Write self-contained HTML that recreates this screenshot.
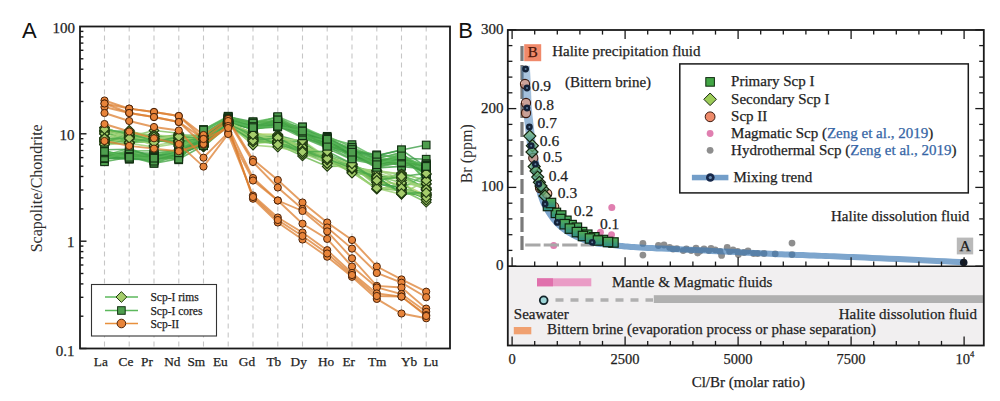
<!DOCTYPE html><html><head><meta charset="utf-8"><style>html,body{margin:0;padding:0;background:#fff;overflow:hidden;}svg{display:block;}</style></head><body><svg width="1000" height="401" viewBox="0 0 1000 401">
<defs>
<linearGradient id="sqg" x1="0" y1="0" x2="0" y2="1"><stop offset="0" stop-color="#52ae52"/><stop offset="1" stop-color="#2e8a88"/></linearGradient>
<linearGradient id="dig" x1="0" y1="0" x2="0" y2="1"><stop offset="0" stop-color="#88c86c"/><stop offset="1" stop-color="#358c88"/></linearGradient>
<linearGradient id="bandg" gradientUnits="userSpaceOnUse" x1="0" y1="66" x2="0" y2="200"><stop offset="0" stop-color="#3d79b4" stop-opacity="0.42"/><stop offset="1" stop-color="#3d79b4" stop-opacity="0.67"/></linearGradient>
</defs>
<rect width="1000" height="401" fill="#fff"/>
<line x1="104.5" y1="26.5" x2="104.5" y2="348.5" stroke="#c6c6c6" stroke-width="1.1" stroke-dasharray="5,4"/>
<line x1="129.2" y1="26.5" x2="129.2" y2="348.5" stroke="#c6c6c6" stroke-width="1.1" stroke-dasharray="5,4"/>
<line x1="154.0" y1="26.5" x2="154.0" y2="348.5" stroke="#c6c6c6" stroke-width="1.1" stroke-dasharray="5,4"/>
<line x1="178.8" y1="26.5" x2="178.8" y2="348.5" stroke="#c6c6c6" stroke-width="1.1" stroke-dasharray="5,4"/>
<line x1="203.5" y1="26.5" x2="203.5" y2="348.5" stroke="#c6c6c6" stroke-width="1.1" stroke-dasharray="5,4"/>
<line x1="228.2" y1="26.5" x2="228.2" y2="348.5" stroke="#c6c6c6" stroke-width="1.1" stroke-dasharray="5,4"/>
<line x1="253.0" y1="26.5" x2="253.0" y2="348.5" stroke="#c6c6c6" stroke-width="1.1" stroke-dasharray="5,4"/>
<line x1="277.8" y1="26.5" x2="277.8" y2="348.5" stroke="#c6c6c6" stroke-width="1.1" stroke-dasharray="5,4"/>
<line x1="302.5" y1="26.5" x2="302.5" y2="348.5" stroke="#c6c6c6" stroke-width="1.1" stroke-dasharray="5,4"/>
<line x1="327.2" y1="26.5" x2="327.2" y2="348.5" stroke="#c6c6c6" stroke-width="1.1" stroke-dasharray="5,4"/>
<line x1="352.0" y1="26.5" x2="352.0" y2="348.5" stroke="#c6c6c6" stroke-width="1.1" stroke-dasharray="5,4"/>
<line x1="376.8" y1="26.5" x2="376.8" y2="348.5" stroke="#c6c6c6" stroke-width="1.1" stroke-dasharray="5,4"/>
<line x1="401.5" y1="26.5" x2="401.5" y2="348.5" stroke="#c6c6c6" stroke-width="1.1" stroke-dasharray="5,4"/>
<line x1="426.2" y1="26.5" x2="426.2" y2="348.5" stroke="#c6c6c6" stroke-width="1.1" stroke-dasharray="5,4"/>
<polyline points="104.5,131.4 129.2,131.0 154.0,138.5 178.8,134.4 203.5,146.0 228.2,124.3 253.0,140.6 277.8,144.0 302.5,149.9 327.2,156.1 352.0,168.5 376.8,178.3 401.5,192.4 426.2,196.3" fill="none" stroke="#48a848" stroke-width="1.6" stroke-opacity="0.8"/>
<polyline points="104.5,155.4 129.2,158.9 154.0,156.4 178.8,153.8 203.5,138.9 228.2,118.2 253.0,125.9 277.8,122.8 302.5,134.4 327.2,138.6 352.0,150.4 376.8,155.9 401.5,150.0 426.2,145.0" fill="none" stroke="#3f9f4a" stroke-width="1.6" stroke-opacity="0.8"/>
<polyline points="104.5,142.8 129.2,143.6 154.0,134.2 178.8,142.3 203.5,146.1 228.2,122.3 253.0,139.1 277.8,135.6 302.5,146.7 327.2,157.8 352.0,165.0 376.8,176.8 401.5,194.0 426.2,193.5" fill="none" stroke="#3c9c40" stroke-width="1.6" stroke-opacity="0.8"/>
<polyline points="104.5,134.1 129.2,136.7 154.0,130.5 178.8,133.2 203.5,142.0 228.2,123.9 253.0,132.2 277.8,138.7 302.5,142.1 327.2,158.1 352.0,167.1 376.8,171.4 401.5,174.0 426.2,189.9" fill="none" stroke="#7cc05a" stroke-width="1.6" stroke-opacity="0.8"/>
<polyline points="104.5,140.1 129.2,142.5 154.0,141.9 178.8,138.3 203.5,146.9 228.2,125.8 253.0,138.4 277.8,135.9 302.5,151.1 327.2,160.7 352.0,170.4 376.8,188.8 401.5,190.1 426.2,202.3" fill="none" stroke="#6cb84c" stroke-width="1.6" stroke-opacity="0.8"/>
<polyline points="104.5,144.8 129.2,143.2 154.0,147.1 178.8,143.2 203.5,144.2 228.2,124.9 253.0,143.9 277.8,141.1 302.5,150.0 327.2,155.5 352.0,172.2 376.8,189.2 401.5,184.8 426.2,184.2" fill="none" stroke="#9ad070" stroke-width="1.6" stroke-opacity="0.8"/>
<polyline points="104.5,130.4 129.2,136.0 154.0,138.6 178.8,135.4 203.5,135.2 228.2,121.1 253.0,139.0 277.8,135.3 302.5,141.9 327.2,157.8 352.0,166.4 376.8,182.0 401.5,188.2 426.2,194.4" fill="none" stroke="#3c9c40" stroke-width="1.6" stroke-opacity="0.8"/>
<polyline points="104.5,160.1 129.2,152.0 154.0,160.6 178.8,150.2 203.5,134.5 228.2,118.9 253.0,127.6 277.8,121.1 302.5,131.3 327.2,144.2 352.0,149.1 376.8,164.4 401.5,153.9 426.2,171.3" fill="none" stroke="#3f9f4a" stroke-width="1.6" stroke-opacity="0.8"/>
<polyline points="104.5,144.0 129.2,139.1 154.0,138.8 178.8,145.1 203.5,145.9 228.2,123.6 253.0,135.1 277.8,141.8 302.5,148.6 327.2,154.3 352.0,163.5 376.8,179.6 401.5,176.9 426.2,187.7" fill="none" stroke="#56b04f" stroke-width="1.6" stroke-opacity="0.8"/>
<polyline points="104.5,155.6 129.2,148.3 154.0,157.5 178.8,148.7 203.5,132.0 228.2,120.2 253.0,122.0 277.8,117.3 302.5,129.8 327.2,142.2 352.0,154.0 376.8,160.2 401.5,160.5 426.2,165.2" fill="none" stroke="#5ab85a" stroke-width="1.6" stroke-opacity="0.8"/>
<polyline points="104.5,156.9 129.2,152.5 154.0,153.2 178.8,150.5 203.5,145.3 228.2,121.6 253.0,129.7 277.8,119.1 302.5,134.2 327.2,143.3 352.0,156.9 376.8,160.1 401.5,165.8 426.2,164.1" fill="none" stroke="#3c9c40" stroke-width="1.6" stroke-opacity="0.8"/>
<polyline points="104.5,150.9 129.2,157.4 154.0,157.4 178.8,148.5 203.5,131.2 228.2,116.8 253.0,121.7 277.8,122.6 302.5,127.0 327.2,141.0 352.0,149.8 376.8,154.8 401.5,158.1 426.2,159.2" fill="none" stroke="#3f9f4a" stroke-width="1.6" stroke-opacity="0.8"/>
<polyline points="104.5,154.5 129.2,156.5 154.0,158.8 178.8,150.8 203.5,141.0 228.2,122.9 253.0,128.9 277.8,124.3 302.5,131.6 327.2,145.3 352.0,154.7 376.8,161.1 401.5,163.3 426.2,163.6" fill="none" stroke="#3c9c40" stroke-width="1.6" stroke-opacity="0.8"/>
<polyline points="104.5,141.4 129.2,137.5 154.0,140.9 178.8,141.9 203.5,139.4 228.2,124.4 253.0,141.6 277.8,140.8 302.5,150.6 327.2,159.8 352.0,165.7 376.8,180.4 401.5,173.1 426.2,180.8" fill="none" stroke="#48a848" stroke-width="1.6" stroke-opacity="0.8"/>
<polyline points="104.5,130.2 129.2,134.6 154.0,136.4 178.8,137.3 203.5,139.4 228.2,122.5 253.0,134.1 277.8,134.4 302.5,149.0 327.2,158.1 352.0,166.9 376.8,182.4 401.5,183.6 426.2,195.4" fill="none" stroke="#b0cf60" stroke-width="1.6" stroke-opacity="0.8"/>
<polyline points="104.5,157.2 129.2,150.0 154.0,156.5 178.8,149.5 203.5,139.1 228.2,119.2 253.0,123.0 277.8,117.5 302.5,131.7 327.2,136.3 352.0,146.9 376.8,158.8 401.5,159.4 426.2,167.6" fill="none" stroke="#56b04f" stroke-width="1.6" stroke-opacity="0.8"/>
<polyline points="104.5,138.6 129.2,142.1 154.0,136.5 178.8,140.8 203.5,146.3 228.2,121.4 253.0,137.7 277.8,144.7 302.5,155.9 327.2,166.4 352.0,165.9 376.8,181.9 401.5,192.5 426.2,194.2" fill="none" stroke="#6cb84c" stroke-width="1.6" stroke-opacity="0.8"/>
<polyline points="104.5,158.9 129.2,156.6 154.0,163.3 178.8,154.4 203.5,143.5 228.2,119.6 253.0,127.0 277.8,126.1 302.5,137.8 327.2,147.9 352.0,154.2 376.8,164.5 401.5,158.5 426.2,167.4" fill="none" stroke="#48a848" stroke-width="1.6" stroke-opacity="0.8"/>
<polyline points="104.5,141.3 129.2,134.8 154.0,137.0 178.8,145.0 203.5,144.2 228.2,123.0 253.0,139.5 277.8,143.0 302.5,151.6 327.2,163.5 352.0,167.2 376.8,184.3 401.5,187.5 426.2,199.4" fill="none" stroke="#3f9f4a" stroke-width="1.6" stroke-opacity="0.8"/>
<polyline points="104.5,157.2 129.2,153.4 154.0,154.8 178.8,159.8 203.5,135.2 228.2,122.4 253.0,128.1 277.8,122.5 302.5,137.0 327.2,140.5 352.0,151.8 376.8,163.5 401.5,155.2 426.2,180.7" fill="none" stroke="#56b04f" stroke-width="1.6" stroke-opacity="0.8"/>
<polyline points="104.5,161.8 129.2,157.1 154.0,159.7 178.8,153.0 203.5,141.2 228.2,121.0 253.0,127.9 277.8,119.8 302.5,138.0 327.2,144.4 352.0,154.0 376.8,166.7 401.5,161.3 426.2,173.3" fill="none" stroke="#48a848" stroke-width="1.6" stroke-opacity="0.8"/>
<polyline points="104.5,158.5 129.2,158.4 154.0,159.2 178.8,158.1 203.5,134.8 228.2,118.3 253.0,125.7 277.8,120.2 302.5,129.4 327.2,141.7 352.0,154.4 376.8,160.9 401.5,155.6 426.2,176.1" fill="none" stroke="#56b04f" stroke-width="1.6" stroke-opacity="0.8"/>
<polyline points="104.5,153.2 129.2,154.6 154.0,159.8 178.8,154.3 203.5,144.7 228.2,122.0 253.0,127.7 277.8,126.6 302.5,134.7 327.2,143.0 352.0,154.4 376.8,167.9 401.5,166.4 426.2,169.1" fill="none" stroke="#3c9c40" stroke-width="1.6" stroke-opacity="0.8"/>
<polyline points="104.5,137.7 129.2,134.1 154.0,141.2 178.8,140.1 203.5,146.3 228.2,123.6 253.0,145.1 277.8,147.1 302.5,152.8 327.2,155.8 352.0,164.9 376.8,186.5 401.5,191.3 426.2,195.2" fill="none" stroke="#9ad070" stroke-width="1.6" stroke-opacity="0.8"/>
<polyline points="104.5,132.3 129.2,137.4 154.0,138.9 178.8,140.2 203.5,142.7 228.2,123.9 253.0,135.0 277.8,135.8 302.5,153.7 327.2,162.4 352.0,171.2 376.8,170.6 401.5,174.0 426.2,180.3" fill="none" stroke="#a4d37a" stroke-width="1.6" stroke-opacity="0.8"/>
<polyline points="104.5,141.2 129.2,133.0 154.0,136.2 178.8,138.6 203.5,146.7 228.2,124.9 253.0,136.0 277.8,137.8 302.5,147.0 327.2,155.8 352.0,166.6 376.8,176.7 401.5,177.4 426.2,189.9" fill="none" stroke="#56b04f" stroke-width="1.6" stroke-opacity="0.8"/>
<polyline points="104.5,144.4 129.2,136.9 154.0,145.5 178.8,141.5 203.5,145.7 228.2,120.8 253.0,140.1 277.8,143.4 302.5,143.7 327.2,163.6 352.0,164.5 376.8,178.6 401.5,177.6 426.2,189.0" fill="none" stroke="#9ad070" stroke-width="1.6" stroke-opacity="0.8"/>
<polyline points="104.5,127.8 129.2,136.1 154.0,134.4 178.8,141.6 203.5,142.0 228.2,119.4 253.0,141.5 277.8,142.6 302.5,141.1 327.2,160.1 352.0,164.7 376.8,174.8 401.5,188.4 426.2,174.6" fill="none" stroke="#5ab85a" stroke-width="1.6" stroke-opacity="0.8"/>
<polyline points="104.5,151.8 129.2,155.0 154.0,154.8 178.8,152.6 203.5,145.8 228.2,122.0 253.0,125.2 277.8,125.6 302.5,130.1 327.2,142.2 352.0,158.1 376.8,163.6 401.5,153.8 426.2,180.3" fill="none" stroke="#5ab85a" stroke-width="1.6" stroke-opacity="0.8"/>
<polyline points="104.5,150.9 129.2,156.2 154.0,153.6 178.8,150.7 203.5,129.7 228.2,117.1 253.0,125.5 277.8,118.8 302.5,131.5 327.2,139.9 352.0,150.6 376.8,164.6 401.5,155.8 426.2,168.5" fill="none" stroke="#5ab85a" stroke-width="1.6" stroke-opacity="0.8"/>
<polyline points="104.5,131.0 129.2,142.6 154.0,138.7 178.8,140.9 203.5,143.8 228.2,122.6 253.0,137.4 277.8,142.8 302.5,150.4 327.2,156.0 352.0,170.9 376.8,176.8 401.5,175.7 426.2,183.4" fill="none" stroke="#56b04f" stroke-width="1.6" stroke-opacity="0.8"/>
<polyline points="104.5,157.6 129.2,158.2 154.0,160.4 178.8,152.9 203.5,140.0 228.2,118.3 253.0,127.7 277.8,123.6 302.5,129.2 327.2,137.3 352.0,150.5 376.8,159.8 401.5,159.5 426.2,167.0" fill="none" stroke="#3f9f4a" stroke-width="1.6" stroke-opacity="0.8"/>
<polyline points="104.5,156.6 129.2,155.1 154.0,158.8 178.8,153.7 203.5,135.0 228.2,122.6 253.0,129.3 277.8,124.7 302.5,134.0 327.2,140.9 352.0,150.0 376.8,158.7 401.5,152.5 426.2,175.0" fill="none" stroke="#3c9c40" stroke-width="1.6" stroke-opacity="0.8"/>
<polyline points="104.5,127.5 129.2,137.0 154.0,137.6 178.8,140.4 203.5,136.0 228.2,121.4 253.0,134.1 277.8,141.0 302.5,144.8 327.2,157.0 352.0,170.7 376.8,172.7 401.5,180.5 426.2,189.5" fill="none" stroke="#9ad070" stroke-width="1.6" stroke-opacity="0.8"/>
<polyline points="104.5,157.4 129.2,157.1 154.0,156.0 178.8,152.8 203.5,129.6 228.2,116.2 253.0,124.6 277.8,116.6 302.5,126.9 327.2,137.9 352.0,144.6 376.8,157.7 401.5,154.0 426.2,171.7" fill="none" stroke="#5ab85a" stroke-width="1.6" stroke-opacity="0.8"/>
<polyline points="104.5,133.7 129.2,131.7 154.0,135.2 178.8,136.2 203.5,143.8 228.2,123.6 253.0,140.8 277.8,136.7 302.5,146.5 327.2,155.5 352.0,172.6 376.8,188.2 401.5,194.3 426.2,180.3" fill="none" stroke="#9ad070" stroke-width="1.6" stroke-opacity="0.8"/>
<polyline points="104.5,139.4 129.2,137.2 154.0,136.7 178.8,146.3 203.5,139.7 228.2,122.0 253.0,142.0 277.8,142.7 302.5,153.8 327.2,158.3 352.0,173.2 376.8,175.9 401.5,182.8 426.2,200.1" fill="none" stroke="#7cc05a" stroke-width="1.6" stroke-opacity="0.8"/>
<polyline points="104.5,157.7 129.2,159.1 154.0,159.7 178.8,156.1 203.5,142.5 228.2,122.3 253.0,125.2 277.8,123.6 302.5,135.9 327.2,146.1 352.0,152.3 376.8,164.7 401.5,163.0 426.2,171.8" fill="none" stroke="#3f9f4a" stroke-width="1.6" stroke-opacity="0.8"/>
<polyline points="104.5,158.1 129.2,151.0 154.0,150.7 178.8,150.8 203.5,135.5 228.2,117.1 253.0,123.1 277.8,120.1 302.5,131.6 327.2,138.1 352.0,150.0 376.8,164.2 401.5,162.7 426.2,170.7" fill="none" stroke="#56b04f" stroke-width="1.6" stroke-opacity="0.8"/>
<polyline points="104.5,138.3 129.2,130.3 154.0,139.0 178.8,135.1 203.5,136.7 228.2,123.7 253.0,139.1 277.8,141.2 302.5,147.0 327.2,157.2 352.0,164.6 376.8,175.9 401.5,188.0 426.2,197.5" fill="none" stroke="#9ad070" stroke-width="1.6" stroke-opacity="0.8"/>
<polyline points="104.5,153.8 129.2,153.6 154.0,163.3 178.8,158.7 203.5,137.2 228.2,119.4 253.0,128.8 277.8,127.0 302.5,131.0 327.2,148.4 352.0,159.8 376.8,164.5 401.5,159.5 426.2,166.4" fill="none" stroke="#48a848" stroke-width="1.6" stroke-opacity="0.8"/>
<polyline points="104.5,156.0 129.2,158.8 154.0,155.5 178.8,154.4 203.5,143.1 228.2,121.4 253.0,128.7 277.8,121.5 302.5,133.1 327.2,139.6 352.0,155.3 376.8,164.4 401.5,159.5 426.2,173.5" fill="none" stroke="#3c9c40" stroke-width="1.6" stroke-opacity="0.8"/>
<polyline points="104.5,140.4 129.2,132.4 154.0,139.4 178.8,135.7 203.5,138.9 228.2,121.9 253.0,135.8 277.8,138.2 302.5,140.5 327.2,157.5 352.0,169.1 376.8,170.3 401.5,178.5 426.2,189.1" fill="none" stroke="#a4d37a" stroke-width="1.6" stroke-opacity="0.8"/>
<polyline points="104.5,158.0 129.2,153.4 154.0,161.2 178.8,156.7 203.5,130.1 228.2,118.2 253.0,128.3 277.8,121.3 302.5,135.9 327.2,141.1 352.0,147.4 376.8,161.9 401.5,160.9 426.2,164.8" fill="none" stroke="#5ab85a" stroke-width="1.6" stroke-opacity="0.8"/>
<polyline points="104.5,149.8 129.2,149.2 154.0,156.9 178.8,152.2 203.5,137.8 228.2,120.1 253.0,127.1 277.8,124.5 302.5,132.4 327.2,138.5 352.0,151.1 376.8,155.6 401.5,149.8 426.2,166.9" fill="none" stroke="#3f9f4a" stroke-width="1.6" stroke-opacity="0.8"/>
<polyline points="104.5,152.9 129.2,153.9 154.0,156.6 178.8,156.8 203.5,139.9 228.2,121.2 253.0,128.4 277.8,122.1 302.5,135.7 327.2,147.2 352.0,149.5 376.8,167.4 401.5,162.4 426.2,165.4" fill="none" stroke="#48a848" stroke-width="1.6" stroke-opacity="0.8"/>
<polyline points="104.5,129.1 129.2,133.9 154.0,140.6 178.8,141.1 203.5,138.7 228.2,125.2 253.0,140.6 277.8,137.7 302.5,150.7 327.2,158.7 352.0,168.2 376.8,177.0 401.5,193.4 426.2,192.6" fill="none" stroke="#48a848" stroke-width="1.6" stroke-opacity="0.8"/>
<polyline points="104.5,138.5 129.2,138.2 154.0,142.4 178.8,136.6 203.5,138.2 228.2,124.4 253.0,134.6 277.8,144.6 302.5,151.8 327.2,151.4 352.0,163.8 376.8,180.3 401.5,176.5 426.2,173.4" fill="none" stroke="#48a848" stroke-width="1.6" stroke-opacity="0.8"/>
<polyline points="104.5,151.6 129.2,156.4 154.0,157.2 178.8,159.1 203.5,145.5 228.2,119.3 253.0,126.5 277.8,119.9 302.5,132.3 327.2,146.3 352.0,158.9 376.8,161.9 401.5,157.0 426.2,166.3" fill="none" stroke="#48a848" stroke-width="1.6" stroke-opacity="0.8"/>
<polyline points="104.5,151.5 129.2,157.3 154.0,158.2 178.8,152.8 203.5,142.8 228.2,120.7 253.0,127.6 277.8,126.3 302.5,131.0 327.2,139.3 352.0,152.2 376.8,164.7 401.5,155.9 426.2,166.4" fill="none" stroke="#5ab85a" stroke-width="1.6" stroke-opacity="0.8"/>
<polyline points="104.5,100.5 129.2,108.6 154.0,112.0 178.8,116.0 203.5,135.0 228.2,119.0 253.0,159.5 277.8,180.0 302.5,202.5 327.2,222.5 352.0,240.0 376.8,266.5 401.5,279.4 426.2,291.7" fill="none" stroke="#dc7f30" stroke-width="1.9" stroke-opacity="0.75"/>
<polyline points="104.5,103.5 129.2,108.6 154.0,112.0 178.8,116.0 203.5,139.0 228.2,121.0 253.0,162.0 277.8,187.5 302.5,209.0 327.2,227.5 352.0,248.6 376.8,273.0 401.5,282.7 426.2,297.2" fill="none" stroke="#dc7f30" stroke-width="1.9" stroke-opacity="0.75"/>
<polyline points="104.5,107.0 129.2,113.0 154.0,117.0 178.8,122.0 203.5,144.7 228.2,127.0 253.0,178.0 277.8,200.5 302.5,211.0 327.2,231.4 352.0,258.3 376.8,285.9 401.5,287.5 426.2,308.6" fill="none" stroke="#dc7f30" stroke-width="1.9" stroke-opacity="0.75"/>
<polyline points="104.5,113.0 129.2,121.0 154.0,127.0 178.8,130.5 203.5,157.7 228.2,132.6 253.0,180.5 277.8,200.5 302.5,223.7 327.2,238.9 352.0,266.5 376.8,287.5 401.5,294.0 426.2,311.8" fill="none" stroke="#dc7f30" stroke-width="1.9" stroke-opacity="0.75"/>
<polyline points="104.5,124.0 129.2,131.5 154.0,138.3 178.8,144.0 203.5,166.6 228.2,134.0 253.0,195.5 277.8,217.5 302.5,232.5 327.2,250.2 352.0,273.0 376.8,293.4 401.5,296.6 426.2,315.1" fill="none" stroke="#dc7f30" stroke-width="1.9" stroke-opacity="0.75"/>
<polyline points="104.5,141.0 129.2,145.9 154.0,148.6 178.8,151.2 203.5,144.0 228.2,126.0 253.0,198.7 277.8,222.5 302.5,239.5 327.2,256.7 352.0,276.8 376.8,298.9 401.5,313.5 426.2,318.3" fill="none" stroke="#dc7f30" stroke-width="1.9" stroke-opacity="0.75"/>
<polyline points="104.5,103.5 129.2,113.0 154.0,117.0 178.8,122.0 203.5,139.0 228.2,128.0 253.0,197.0 277.8,220.0 302.5,236.0 327.2,253.5 352.0,275.0 376.8,296.0 401.5,296.6 426.2,316.0" fill="none" stroke="#dc7f30" stroke-width="1.9" stroke-opacity="0.75"/>
<path d="M104.5 126.6L109.3 131.4L104.5 136.2L99.7 131.4Z" fill="#a5cd6b" stroke="#1f3a10" stroke-width="1.1"/>
<path d="M129.2 126.2L134.1 131.0L129.2 135.8L124.5 131.0Z" fill="#a5cd6b" stroke="#1f3a10" stroke-width="1.1"/>
<path d="M154.0 133.7L158.8 138.5L154.0 143.3L149.2 138.5Z" fill="#a5cd6b" stroke="#1f3a10" stroke-width="1.1"/>
<path d="M178.8 129.6L183.6 134.4L178.8 139.2L173.9 134.4Z" fill="#a5cd6b" stroke="#1f3a10" stroke-width="1.1"/>
<path d="M203.5 141.2L208.3 146.0L203.5 150.8L198.7 146.0Z" fill="#a5cd6b" stroke="#1f3a10" stroke-width="1.1"/>
<path d="M228.2 119.5L233.1 124.3L228.2 129.1L223.4 124.3Z" fill="#a5cd6b" stroke="#1f3a10" stroke-width="1.1"/>
<path d="M253.0 135.8L257.8 140.6L253.0 145.4L248.2 140.6Z" fill="#a5cd6b" stroke="#1f3a10" stroke-width="1.1"/>
<path d="M277.8 139.2L282.6 144.0L277.8 148.8L272.9 144.0Z" fill="#a5cd6b" stroke="#1f3a10" stroke-width="1.1"/>
<path d="M302.5 145.1L307.3 149.9L302.5 154.7L297.7 149.9Z" fill="#a5cd6b" stroke="#1f3a10" stroke-width="1.1"/>
<path d="M327.2 151.3L332.1 156.1L327.2 160.9L322.4 156.1Z" fill="#a5cd6b" stroke="#1f3a10" stroke-width="1.1"/>
<path d="M352.0 163.7L356.8 168.5L352.0 173.3L347.2 168.5Z" fill="#a5cd6b" stroke="#1f3a10" stroke-width="1.1"/>
<path d="M376.8 173.5L381.6 178.3L376.8 183.1L371.9 178.3Z" fill="#a5cd6b" stroke="#1f3a10" stroke-width="1.1"/>
<path d="M401.5 187.6L406.3 192.4L401.5 197.2L396.7 192.4Z" fill="#a5cd6b" stroke="#1f3a10" stroke-width="1.1"/>
<path d="M426.2 191.5L431.1 196.3L426.2 201.1L421.4 196.3Z" fill="#a5cd6b" stroke="#1f3a10" stroke-width="1.1"/>
<rect x="100.7" y="151.6" width="7.6" height="7.6" fill="#4e9e4e" stroke="#133013" stroke-width="1.1"/>
<rect x="125.5" y="155.1" width="7.6" height="7.6" fill="#4e9e4e" stroke="#133013" stroke-width="1.1"/>
<rect x="150.2" y="152.6" width="7.6" height="7.6" fill="#4e9e4e" stroke="#133013" stroke-width="1.1"/>
<rect x="174.9" y="150.0" width="7.6" height="7.6" fill="#4e9e4e" stroke="#133013" stroke-width="1.1"/>
<rect x="199.7" y="135.1" width="7.6" height="7.6" fill="#4e9e4e" stroke="#133013" stroke-width="1.1"/>
<rect x="224.4" y="114.4" width="7.6" height="7.6" fill="#4e9e4e" stroke="#133013" stroke-width="1.1"/>
<rect x="249.2" y="122.1" width="7.6" height="7.6" fill="#4e9e4e" stroke="#133013" stroke-width="1.1"/>
<rect x="273.9" y="119.0" width="7.6" height="7.6" fill="#4e9e4e" stroke="#133013" stroke-width="1.1"/>
<rect x="298.7" y="130.6" width="7.6" height="7.6" fill="#4e9e4e" stroke="#133013" stroke-width="1.1"/>
<rect x="323.4" y="134.8" width="7.6" height="7.6" fill="#4e9e4e" stroke="#133013" stroke-width="1.1"/>
<rect x="348.2" y="146.6" width="7.6" height="7.6" fill="#4e9e4e" stroke="#133013" stroke-width="1.1"/>
<rect x="372.9" y="152.1" width="7.6" height="7.6" fill="#4e9e4e" stroke="#133013" stroke-width="1.1"/>
<rect x="397.7" y="146.2" width="7.6" height="7.6" fill="#4e9e4e" stroke="#133013" stroke-width="1.1"/>
<rect x="422.4" y="141.2" width="7.6" height="7.6" fill="#4e9e4e" stroke="#133013" stroke-width="1.1"/>
<path d="M104.5 138.0L109.3 142.8L104.5 147.6L99.7 142.8Z" fill="#a5cd6b" stroke="#1f3a10" stroke-width="1.1"/>
<path d="M129.2 138.8L134.1 143.6L129.2 148.4L124.5 143.6Z" fill="#a5cd6b" stroke="#1f3a10" stroke-width="1.1"/>
<path d="M154.0 129.4L158.8 134.2L154.0 139.0L149.2 134.2Z" fill="#a5cd6b" stroke="#1f3a10" stroke-width="1.1"/>
<path d="M178.8 137.5L183.6 142.3L178.8 147.1L173.9 142.3Z" fill="#a5cd6b" stroke="#1f3a10" stroke-width="1.1"/>
<path d="M203.5 141.3L208.3 146.1L203.5 150.9L198.7 146.1Z" fill="#a5cd6b" stroke="#1f3a10" stroke-width="1.1"/>
<path d="M228.2 117.5L233.1 122.3L228.2 127.1L223.4 122.3Z" fill="#a5cd6b" stroke="#1f3a10" stroke-width="1.1"/>
<path d="M253.0 134.3L257.8 139.1L253.0 143.9L248.2 139.1Z" fill="#a5cd6b" stroke="#1f3a10" stroke-width="1.1"/>
<path d="M277.8 130.8L282.6 135.6L277.8 140.4L272.9 135.6Z" fill="#a5cd6b" stroke="#1f3a10" stroke-width="1.1"/>
<path d="M302.5 141.9L307.3 146.7L302.5 151.5L297.7 146.7Z" fill="#a5cd6b" stroke="#1f3a10" stroke-width="1.1"/>
<path d="M327.2 153.0L332.1 157.8L327.2 162.6L322.4 157.8Z" fill="#a5cd6b" stroke="#1f3a10" stroke-width="1.1"/>
<path d="M352.0 160.2L356.8 165.0L352.0 169.8L347.2 165.0Z" fill="#a5cd6b" stroke="#1f3a10" stroke-width="1.1"/>
<path d="M376.8 172.0L381.6 176.8L376.8 181.6L371.9 176.8Z" fill="#a5cd6b" stroke="#1f3a10" stroke-width="1.1"/>
<path d="M401.5 189.2L406.3 194.0L401.5 198.8L396.7 194.0Z" fill="#a5cd6b" stroke="#1f3a10" stroke-width="1.1"/>
<path d="M426.2 188.7L431.1 193.5L426.2 198.3L421.4 193.5Z" fill="#a5cd6b" stroke="#1f3a10" stroke-width="1.1"/>
<path d="M104.5 129.3L109.3 134.1L104.5 138.9L99.7 134.1Z" fill="#a5cd6b" stroke="#1f3a10" stroke-width="1.1"/>
<path d="M129.2 131.9L134.1 136.7L129.2 141.5L124.5 136.7Z" fill="#a5cd6b" stroke="#1f3a10" stroke-width="1.1"/>
<path d="M154.0 125.7L158.8 130.5L154.0 135.3L149.2 130.5Z" fill="#a5cd6b" stroke="#1f3a10" stroke-width="1.1"/>
<path d="M178.8 128.4L183.6 133.2L178.8 138.0L173.9 133.2Z" fill="#a5cd6b" stroke="#1f3a10" stroke-width="1.1"/>
<path d="M203.5 137.2L208.3 142.0L203.5 146.8L198.7 142.0Z" fill="#a5cd6b" stroke="#1f3a10" stroke-width="1.1"/>
<path d="M228.2 119.1L233.1 123.9L228.2 128.7L223.4 123.9Z" fill="#a5cd6b" stroke="#1f3a10" stroke-width="1.1"/>
<path d="M253.0 127.4L257.8 132.2L253.0 137.0L248.2 132.2Z" fill="#a5cd6b" stroke="#1f3a10" stroke-width="1.1"/>
<path d="M277.8 133.9L282.6 138.7L277.8 143.5L272.9 138.7Z" fill="#a5cd6b" stroke="#1f3a10" stroke-width="1.1"/>
<path d="M302.5 137.3L307.3 142.1L302.5 146.9L297.7 142.1Z" fill="#a5cd6b" stroke="#1f3a10" stroke-width="1.1"/>
<path d="M327.2 153.3L332.1 158.1L327.2 162.9L322.4 158.1Z" fill="#a5cd6b" stroke="#1f3a10" stroke-width="1.1"/>
<path d="M352.0 162.3L356.8 167.1L352.0 171.9L347.2 167.1Z" fill="#a5cd6b" stroke="#1f3a10" stroke-width="1.1"/>
<path d="M376.8 166.6L381.6 171.4L376.8 176.2L371.9 171.4Z" fill="#a5cd6b" stroke="#1f3a10" stroke-width="1.1"/>
<path d="M401.5 169.2L406.3 174.0L401.5 178.8L396.7 174.0Z" fill="#a5cd6b" stroke="#1f3a10" stroke-width="1.1"/>
<path d="M426.2 185.1L431.1 189.9L426.2 194.7L421.4 189.9Z" fill="#a5cd6b" stroke="#1f3a10" stroke-width="1.1"/>
<path d="M104.5 135.3L109.3 140.1L104.5 144.9L99.7 140.1Z" fill="#a5cd6b" stroke="#1f3a10" stroke-width="1.1"/>
<path d="M129.2 137.7L134.1 142.5L129.2 147.3L124.5 142.5Z" fill="#a5cd6b" stroke="#1f3a10" stroke-width="1.1"/>
<path d="M154.0 137.1L158.8 141.9L154.0 146.7L149.2 141.9Z" fill="#a5cd6b" stroke="#1f3a10" stroke-width="1.1"/>
<path d="M178.8 133.5L183.6 138.3L178.8 143.1L173.9 138.3Z" fill="#a5cd6b" stroke="#1f3a10" stroke-width="1.1"/>
<path d="M203.5 142.1L208.3 146.9L203.5 151.7L198.7 146.9Z" fill="#a5cd6b" stroke="#1f3a10" stroke-width="1.1"/>
<path d="M228.2 121.0L233.1 125.8L228.2 130.6L223.4 125.8Z" fill="#a5cd6b" stroke="#1f3a10" stroke-width="1.1"/>
<path d="M253.0 133.6L257.8 138.4L253.0 143.2L248.2 138.4Z" fill="#a5cd6b" stroke="#1f3a10" stroke-width="1.1"/>
<path d="M277.8 131.1L282.6 135.9L277.8 140.7L272.9 135.9Z" fill="#a5cd6b" stroke="#1f3a10" stroke-width="1.1"/>
<path d="M302.5 146.3L307.3 151.1L302.5 155.9L297.7 151.1Z" fill="#a5cd6b" stroke="#1f3a10" stroke-width="1.1"/>
<path d="M327.2 155.9L332.1 160.7L327.2 165.5L322.4 160.7Z" fill="#a5cd6b" stroke="#1f3a10" stroke-width="1.1"/>
<path d="M352.0 165.6L356.8 170.4L352.0 175.2L347.2 170.4Z" fill="#a5cd6b" stroke="#1f3a10" stroke-width="1.1"/>
<path d="M376.8 184.0L381.6 188.8L376.8 193.6L371.9 188.8Z" fill="#a5cd6b" stroke="#1f3a10" stroke-width="1.1"/>
<path d="M401.5 185.3L406.3 190.1L401.5 194.9L396.7 190.1Z" fill="#a5cd6b" stroke="#1f3a10" stroke-width="1.1"/>
<path d="M426.2 197.5L431.1 202.3L426.2 207.1L421.4 202.3Z" fill="#a5cd6b" stroke="#1f3a10" stroke-width="1.1"/>
<path d="M104.5 140.0L109.3 144.8L104.5 149.6L99.7 144.8Z" fill="#a5cd6b" stroke="#1f3a10" stroke-width="1.1"/>
<path d="M129.2 138.4L134.1 143.2L129.2 148.0L124.5 143.2Z" fill="#a5cd6b" stroke="#1f3a10" stroke-width="1.1"/>
<path d="M154.0 142.3L158.8 147.1L154.0 151.9L149.2 147.1Z" fill="#a5cd6b" stroke="#1f3a10" stroke-width="1.1"/>
<path d="M178.8 138.4L183.6 143.2L178.8 148.0L173.9 143.2Z" fill="#a5cd6b" stroke="#1f3a10" stroke-width="1.1"/>
<path d="M203.5 139.4L208.3 144.2L203.5 149.0L198.7 144.2Z" fill="#a5cd6b" stroke="#1f3a10" stroke-width="1.1"/>
<path d="M228.2 120.1L233.1 124.9L228.2 129.7L223.4 124.9Z" fill="#a5cd6b" stroke="#1f3a10" stroke-width="1.1"/>
<path d="M253.0 139.1L257.8 143.9L253.0 148.7L248.2 143.9Z" fill="#a5cd6b" stroke="#1f3a10" stroke-width="1.1"/>
<path d="M277.8 136.3L282.6 141.1L277.8 145.9L272.9 141.1Z" fill="#a5cd6b" stroke="#1f3a10" stroke-width="1.1"/>
<path d="M302.5 145.2L307.3 150.0L302.5 154.8L297.7 150.0Z" fill="#a5cd6b" stroke="#1f3a10" stroke-width="1.1"/>
<path d="M327.2 150.7L332.1 155.5L327.2 160.3L322.4 155.5Z" fill="#a5cd6b" stroke="#1f3a10" stroke-width="1.1"/>
<path d="M352.0 167.4L356.8 172.2L352.0 177.0L347.2 172.2Z" fill="#a5cd6b" stroke="#1f3a10" stroke-width="1.1"/>
<path d="M376.8 184.4L381.6 189.2L376.8 194.0L371.9 189.2Z" fill="#a5cd6b" stroke="#1f3a10" stroke-width="1.1"/>
<path d="M401.5 180.0L406.3 184.8L401.5 189.6L396.7 184.8Z" fill="#a5cd6b" stroke="#1f3a10" stroke-width="1.1"/>
<path d="M426.2 179.4L431.1 184.2L426.2 189.0L421.4 184.2Z" fill="#a5cd6b" stroke="#1f3a10" stroke-width="1.1"/>
<path d="M104.5 125.6L109.3 130.4L104.5 135.2L99.7 130.4Z" fill="#a5cd6b" stroke="#1f3a10" stroke-width="1.1"/>
<path d="M129.2 131.2L134.1 136.0L129.2 140.8L124.5 136.0Z" fill="#a5cd6b" stroke="#1f3a10" stroke-width="1.1"/>
<path d="M154.0 133.8L158.8 138.6L154.0 143.4L149.2 138.6Z" fill="#a5cd6b" stroke="#1f3a10" stroke-width="1.1"/>
<path d="M178.8 130.6L183.6 135.4L178.8 140.2L173.9 135.4Z" fill="#a5cd6b" stroke="#1f3a10" stroke-width="1.1"/>
<path d="M203.5 130.4L208.3 135.2L203.5 140.0L198.7 135.2Z" fill="#a5cd6b" stroke="#1f3a10" stroke-width="1.1"/>
<path d="M228.2 116.3L233.1 121.1L228.2 125.9L223.4 121.1Z" fill="#a5cd6b" stroke="#1f3a10" stroke-width="1.1"/>
<path d="M253.0 134.2L257.8 139.0L253.0 143.8L248.2 139.0Z" fill="#a5cd6b" stroke="#1f3a10" stroke-width="1.1"/>
<path d="M277.8 130.5L282.6 135.3L277.8 140.1L272.9 135.3Z" fill="#a5cd6b" stroke="#1f3a10" stroke-width="1.1"/>
<path d="M302.5 137.1L307.3 141.9L302.5 146.7L297.7 141.9Z" fill="#a5cd6b" stroke="#1f3a10" stroke-width="1.1"/>
<path d="M327.2 153.0L332.1 157.8L327.2 162.6L322.4 157.8Z" fill="#a5cd6b" stroke="#1f3a10" stroke-width="1.1"/>
<path d="M352.0 161.6L356.8 166.4L352.0 171.2L347.2 166.4Z" fill="#a5cd6b" stroke="#1f3a10" stroke-width="1.1"/>
<path d="M376.8 177.2L381.6 182.0L376.8 186.8L371.9 182.0Z" fill="#a5cd6b" stroke="#1f3a10" stroke-width="1.1"/>
<path d="M401.5 183.4L406.3 188.2L401.5 193.0L396.7 188.2Z" fill="#a5cd6b" stroke="#1f3a10" stroke-width="1.1"/>
<path d="M426.2 189.6L431.1 194.4L426.2 199.2L421.4 194.4Z" fill="#a5cd6b" stroke="#1f3a10" stroke-width="1.1"/>
<rect x="100.7" y="156.3" width="7.6" height="7.6" fill="#4e9e4e" stroke="#133013" stroke-width="1.1"/>
<rect x="125.5" y="148.2" width="7.6" height="7.6" fill="#4e9e4e" stroke="#133013" stroke-width="1.1"/>
<rect x="150.2" y="156.8" width="7.6" height="7.6" fill="#4e9e4e" stroke="#133013" stroke-width="1.1"/>
<rect x="174.9" y="146.4" width="7.6" height="7.6" fill="#4e9e4e" stroke="#133013" stroke-width="1.1"/>
<rect x="199.7" y="130.7" width="7.6" height="7.6" fill="#4e9e4e" stroke="#133013" stroke-width="1.1"/>
<rect x="224.4" y="115.1" width="7.6" height="7.6" fill="#4e9e4e" stroke="#133013" stroke-width="1.1"/>
<rect x="249.2" y="123.8" width="7.6" height="7.6" fill="#4e9e4e" stroke="#133013" stroke-width="1.1"/>
<rect x="273.9" y="117.3" width="7.6" height="7.6" fill="#4e9e4e" stroke="#133013" stroke-width="1.1"/>
<rect x="298.7" y="127.5" width="7.6" height="7.6" fill="#4e9e4e" stroke="#133013" stroke-width="1.1"/>
<rect x="323.4" y="140.4" width="7.6" height="7.6" fill="#4e9e4e" stroke="#133013" stroke-width="1.1"/>
<rect x="348.2" y="145.3" width="7.6" height="7.6" fill="#4e9e4e" stroke="#133013" stroke-width="1.1"/>
<rect x="372.9" y="160.6" width="7.6" height="7.6" fill="#4e9e4e" stroke="#133013" stroke-width="1.1"/>
<rect x="397.7" y="150.1" width="7.6" height="7.6" fill="#4e9e4e" stroke="#133013" stroke-width="1.1"/>
<rect x="422.4" y="167.5" width="7.6" height="7.6" fill="#4e9e4e" stroke="#133013" stroke-width="1.1"/>
<path d="M104.5 139.2L109.3 144.0L104.5 148.8L99.7 144.0Z" fill="#a5cd6b" stroke="#1f3a10" stroke-width="1.1"/>
<path d="M129.2 134.3L134.1 139.1L129.2 143.9L124.5 139.1Z" fill="#a5cd6b" stroke="#1f3a10" stroke-width="1.1"/>
<path d="M154.0 134.0L158.8 138.8L154.0 143.6L149.2 138.8Z" fill="#a5cd6b" stroke="#1f3a10" stroke-width="1.1"/>
<path d="M178.8 140.3L183.6 145.1L178.8 149.9L173.9 145.1Z" fill="#a5cd6b" stroke="#1f3a10" stroke-width="1.1"/>
<path d="M203.5 141.1L208.3 145.9L203.5 150.7L198.7 145.9Z" fill="#a5cd6b" stroke="#1f3a10" stroke-width="1.1"/>
<path d="M228.2 118.8L233.1 123.6L228.2 128.4L223.4 123.6Z" fill="#a5cd6b" stroke="#1f3a10" stroke-width="1.1"/>
<path d="M253.0 130.3L257.8 135.1L253.0 139.9L248.2 135.1Z" fill="#a5cd6b" stroke="#1f3a10" stroke-width="1.1"/>
<path d="M277.8 137.0L282.6 141.8L277.8 146.6L272.9 141.8Z" fill="#a5cd6b" stroke="#1f3a10" stroke-width="1.1"/>
<path d="M302.5 143.8L307.3 148.6L302.5 153.4L297.7 148.6Z" fill="#a5cd6b" stroke="#1f3a10" stroke-width="1.1"/>
<path d="M327.2 149.5L332.1 154.3L327.2 159.1L322.4 154.3Z" fill="#a5cd6b" stroke="#1f3a10" stroke-width="1.1"/>
<path d="M352.0 158.7L356.8 163.5L352.0 168.3L347.2 163.5Z" fill="#a5cd6b" stroke="#1f3a10" stroke-width="1.1"/>
<path d="M376.8 174.8L381.6 179.6L376.8 184.4L371.9 179.6Z" fill="#a5cd6b" stroke="#1f3a10" stroke-width="1.1"/>
<path d="M401.5 172.1L406.3 176.9L401.5 181.7L396.7 176.9Z" fill="#a5cd6b" stroke="#1f3a10" stroke-width="1.1"/>
<path d="M426.2 182.9L431.1 187.7L426.2 192.5L421.4 187.7Z" fill="#a5cd6b" stroke="#1f3a10" stroke-width="1.1"/>
<rect x="100.7" y="151.8" width="7.6" height="7.6" fill="#4e9e4e" stroke="#133013" stroke-width="1.1"/>
<rect x="125.5" y="144.5" width="7.6" height="7.6" fill="#4e9e4e" stroke="#133013" stroke-width="1.1"/>
<rect x="150.2" y="153.7" width="7.6" height="7.6" fill="#4e9e4e" stroke="#133013" stroke-width="1.1"/>
<rect x="174.9" y="144.9" width="7.6" height="7.6" fill="#4e9e4e" stroke="#133013" stroke-width="1.1"/>
<rect x="199.7" y="128.2" width="7.6" height="7.6" fill="#4e9e4e" stroke="#133013" stroke-width="1.1"/>
<rect x="224.4" y="116.4" width="7.6" height="7.6" fill="#4e9e4e" stroke="#133013" stroke-width="1.1"/>
<rect x="249.2" y="118.2" width="7.6" height="7.6" fill="#4e9e4e" stroke="#133013" stroke-width="1.1"/>
<rect x="273.9" y="113.5" width="7.6" height="7.6" fill="#4e9e4e" stroke="#133013" stroke-width="1.1"/>
<rect x="298.7" y="126.0" width="7.6" height="7.6" fill="#4e9e4e" stroke="#133013" stroke-width="1.1"/>
<rect x="323.4" y="138.4" width="7.6" height="7.6" fill="#4e9e4e" stroke="#133013" stroke-width="1.1"/>
<rect x="348.2" y="150.2" width="7.6" height="7.6" fill="#4e9e4e" stroke="#133013" stroke-width="1.1"/>
<rect x="372.9" y="156.4" width="7.6" height="7.6" fill="#4e9e4e" stroke="#133013" stroke-width="1.1"/>
<rect x="397.7" y="156.7" width="7.6" height="7.6" fill="#4e9e4e" stroke="#133013" stroke-width="1.1"/>
<rect x="422.4" y="161.4" width="7.6" height="7.6" fill="#4e9e4e" stroke="#133013" stroke-width="1.1"/>
<rect x="100.7" y="153.1" width="7.6" height="7.6" fill="#4e9e4e" stroke="#133013" stroke-width="1.1"/>
<rect x="125.5" y="148.7" width="7.6" height="7.6" fill="#4e9e4e" stroke="#133013" stroke-width="1.1"/>
<rect x="150.2" y="149.4" width="7.6" height="7.6" fill="#4e9e4e" stroke="#133013" stroke-width="1.1"/>
<rect x="174.9" y="146.7" width="7.6" height="7.6" fill="#4e9e4e" stroke="#133013" stroke-width="1.1"/>
<rect x="199.7" y="141.5" width="7.6" height="7.6" fill="#4e9e4e" stroke="#133013" stroke-width="1.1"/>
<rect x="224.4" y="117.8" width="7.6" height="7.6" fill="#4e9e4e" stroke="#133013" stroke-width="1.1"/>
<rect x="249.2" y="125.9" width="7.6" height="7.6" fill="#4e9e4e" stroke="#133013" stroke-width="1.1"/>
<rect x="273.9" y="115.3" width="7.6" height="7.6" fill="#4e9e4e" stroke="#133013" stroke-width="1.1"/>
<rect x="298.7" y="130.4" width="7.6" height="7.6" fill="#4e9e4e" stroke="#133013" stroke-width="1.1"/>
<rect x="323.4" y="139.5" width="7.6" height="7.6" fill="#4e9e4e" stroke="#133013" stroke-width="1.1"/>
<rect x="348.2" y="153.1" width="7.6" height="7.6" fill="#4e9e4e" stroke="#133013" stroke-width="1.1"/>
<rect x="372.9" y="156.3" width="7.6" height="7.6" fill="#4e9e4e" stroke="#133013" stroke-width="1.1"/>
<rect x="397.7" y="162.0" width="7.6" height="7.6" fill="#4e9e4e" stroke="#133013" stroke-width="1.1"/>
<rect x="422.4" y="160.3" width="7.6" height="7.6" fill="#4e9e4e" stroke="#133013" stroke-width="1.1"/>
<rect x="100.7" y="147.1" width="7.6" height="7.6" fill="#4e9e4e" stroke="#133013" stroke-width="1.1"/>
<rect x="125.5" y="153.6" width="7.6" height="7.6" fill="#4e9e4e" stroke="#133013" stroke-width="1.1"/>
<rect x="150.2" y="153.6" width="7.6" height="7.6" fill="#4e9e4e" stroke="#133013" stroke-width="1.1"/>
<rect x="174.9" y="144.7" width="7.6" height="7.6" fill="#4e9e4e" stroke="#133013" stroke-width="1.1"/>
<rect x="199.7" y="127.4" width="7.6" height="7.6" fill="#4e9e4e" stroke="#133013" stroke-width="1.1"/>
<rect x="224.4" y="113.0" width="7.6" height="7.6" fill="#4e9e4e" stroke="#133013" stroke-width="1.1"/>
<rect x="249.2" y="117.9" width="7.6" height="7.6" fill="#4e9e4e" stroke="#133013" stroke-width="1.1"/>
<rect x="273.9" y="118.8" width="7.6" height="7.6" fill="#4e9e4e" stroke="#133013" stroke-width="1.1"/>
<rect x="298.7" y="123.2" width="7.6" height="7.6" fill="#4e9e4e" stroke="#133013" stroke-width="1.1"/>
<rect x="323.4" y="137.2" width="7.6" height="7.6" fill="#4e9e4e" stroke="#133013" stroke-width="1.1"/>
<rect x="348.2" y="146.0" width="7.6" height="7.6" fill="#4e9e4e" stroke="#133013" stroke-width="1.1"/>
<rect x="372.9" y="151.0" width="7.6" height="7.6" fill="#4e9e4e" stroke="#133013" stroke-width="1.1"/>
<rect x="397.7" y="154.3" width="7.6" height="7.6" fill="#4e9e4e" stroke="#133013" stroke-width="1.1"/>
<rect x="422.4" y="155.4" width="7.6" height="7.6" fill="#4e9e4e" stroke="#133013" stroke-width="1.1"/>
<rect x="100.7" y="150.7" width="7.6" height="7.6" fill="#4e9e4e" stroke="#133013" stroke-width="1.1"/>
<rect x="125.5" y="152.7" width="7.6" height="7.6" fill="#4e9e4e" stroke="#133013" stroke-width="1.1"/>
<rect x="150.2" y="155.0" width="7.6" height="7.6" fill="#4e9e4e" stroke="#133013" stroke-width="1.1"/>
<rect x="174.9" y="147.0" width="7.6" height="7.6" fill="#4e9e4e" stroke="#133013" stroke-width="1.1"/>
<rect x="199.7" y="137.2" width="7.6" height="7.6" fill="#4e9e4e" stroke="#133013" stroke-width="1.1"/>
<rect x="224.4" y="119.1" width="7.6" height="7.6" fill="#4e9e4e" stroke="#133013" stroke-width="1.1"/>
<rect x="249.2" y="125.1" width="7.6" height="7.6" fill="#4e9e4e" stroke="#133013" stroke-width="1.1"/>
<rect x="273.9" y="120.5" width="7.6" height="7.6" fill="#4e9e4e" stroke="#133013" stroke-width="1.1"/>
<rect x="298.7" y="127.8" width="7.6" height="7.6" fill="#4e9e4e" stroke="#133013" stroke-width="1.1"/>
<rect x="323.4" y="141.5" width="7.6" height="7.6" fill="#4e9e4e" stroke="#133013" stroke-width="1.1"/>
<rect x="348.2" y="150.9" width="7.6" height="7.6" fill="#4e9e4e" stroke="#133013" stroke-width="1.1"/>
<rect x="372.9" y="157.3" width="7.6" height="7.6" fill="#4e9e4e" stroke="#133013" stroke-width="1.1"/>
<rect x="397.7" y="159.5" width="7.6" height="7.6" fill="#4e9e4e" stroke="#133013" stroke-width="1.1"/>
<rect x="422.4" y="159.8" width="7.6" height="7.6" fill="#4e9e4e" stroke="#133013" stroke-width="1.1"/>
<path d="M104.5 136.6L109.3 141.4L104.5 146.2L99.7 141.4Z" fill="#a5cd6b" stroke="#1f3a10" stroke-width="1.1"/>
<path d="M129.2 132.7L134.1 137.5L129.2 142.3L124.5 137.5Z" fill="#a5cd6b" stroke="#1f3a10" stroke-width="1.1"/>
<path d="M154.0 136.1L158.8 140.9L154.0 145.7L149.2 140.9Z" fill="#a5cd6b" stroke="#1f3a10" stroke-width="1.1"/>
<path d="M178.8 137.1L183.6 141.9L178.8 146.7L173.9 141.9Z" fill="#a5cd6b" stroke="#1f3a10" stroke-width="1.1"/>
<path d="M203.5 134.6L208.3 139.4L203.5 144.2L198.7 139.4Z" fill="#a5cd6b" stroke="#1f3a10" stroke-width="1.1"/>
<path d="M228.2 119.6L233.1 124.4L228.2 129.2L223.4 124.4Z" fill="#a5cd6b" stroke="#1f3a10" stroke-width="1.1"/>
<path d="M253.0 136.8L257.8 141.6L253.0 146.4L248.2 141.6Z" fill="#a5cd6b" stroke="#1f3a10" stroke-width="1.1"/>
<path d="M277.8 136.0L282.6 140.8L277.8 145.6L272.9 140.8Z" fill="#a5cd6b" stroke="#1f3a10" stroke-width="1.1"/>
<path d="M302.5 145.8L307.3 150.6L302.5 155.4L297.7 150.6Z" fill="#a5cd6b" stroke="#1f3a10" stroke-width="1.1"/>
<path d="M327.2 155.0L332.1 159.8L327.2 164.6L322.4 159.8Z" fill="#a5cd6b" stroke="#1f3a10" stroke-width="1.1"/>
<path d="M352.0 160.9L356.8 165.7L352.0 170.5L347.2 165.7Z" fill="#a5cd6b" stroke="#1f3a10" stroke-width="1.1"/>
<path d="M376.8 175.6L381.6 180.4L376.8 185.2L371.9 180.4Z" fill="#a5cd6b" stroke="#1f3a10" stroke-width="1.1"/>
<path d="M401.5 168.3L406.3 173.1L401.5 177.9L396.7 173.1Z" fill="#a5cd6b" stroke="#1f3a10" stroke-width="1.1"/>
<path d="M426.2 176.0L431.1 180.8L426.2 185.6L421.4 180.8Z" fill="#a5cd6b" stroke="#1f3a10" stroke-width="1.1"/>
<path d="M104.5 125.4L109.3 130.2L104.5 135.0L99.7 130.2Z" fill="#a5cd6b" stroke="#1f3a10" stroke-width="1.1"/>
<path d="M129.2 129.8L134.1 134.6L129.2 139.4L124.5 134.6Z" fill="#a5cd6b" stroke="#1f3a10" stroke-width="1.1"/>
<path d="M154.0 131.6L158.8 136.4L154.0 141.2L149.2 136.4Z" fill="#a5cd6b" stroke="#1f3a10" stroke-width="1.1"/>
<path d="M178.8 132.5L183.6 137.3L178.8 142.1L173.9 137.3Z" fill="#a5cd6b" stroke="#1f3a10" stroke-width="1.1"/>
<path d="M203.5 134.6L208.3 139.4L203.5 144.2L198.7 139.4Z" fill="#a5cd6b" stroke="#1f3a10" stroke-width="1.1"/>
<path d="M228.2 117.7L233.1 122.5L228.2 127.3L223.4 122.5Z" fill="#a5cd6b" stroke="#1f3a10" stroke-width="1.1"/>
<path d="M253.0 129.3L257.8 134.1L253.0 138.9L248.2 134.1Z" fill="#a5cd6b" stroke="#1f3a10" stroke-width="1.1"/>
<path d="M277.8 129.6L282.6 134.4L277.8 139.2L272.9 134.4Z" fill="#a5cd6b" stroke="#1f3a10" stroke-width="1.1"/>
<path d="M302.5 144.2L307.3 149.0L302.5 153.8L297.7 149.0Z" fill="#a5cd6b" stroke="#1f3a10" stroke-width="1.1"/>
<path d="M327.2 153.3L332.1 158.1L327.2 162.9L322.4 158.1Z" fill="#a5cd6b" stroke="#1f3a10" stroke-width="1.1"/>
<path d="M352.0 162.1L356.8 166.9L352.0 171.7L347.2 166.9Z" fill="#a5cd6b" stroke="#1f3a10" stroke-width="1.1"/>
<path d="M376.8 177.6L381.6 182.4L376.8 187.2L371.9 182.4Z" fill="#a5cd6b" stroke="#1f3a10" stroke-width="1.1"/>
<path d="M401.5 178.8L406.3 183.6L401.5 188.4L396.7 183.6Z" fill="#a5cd6b" stroke="#1f3a10" stroke-width="1.1"/>
<path d="M426.2 190.6L431.1 195.4L426.2 200.2L421.4 195.4Z" fill="#a5cd6b" stroke="#1f3a10" stroke-width="1.1"/>
<rect x="100.7" y="153.4" width="7.6" height="7.6" fill="#4e9e4e" stroke="#133013" stroke-width="1.1"/>
<rect x="125.5" y="146.2" width="7.6" height="7.6" fill="#4e9e4e" stroke="#133013" stroke-width="1.1"/>
<rect x="150.2" y="152.7" width="7.6" height="7.6" fill="#4e9e4e" stroke="#133013" stroke-width="1.1"/>
<rect x="174.9" y="145.7" width="7.6" height="7.6" fill="#4e9e4e" stroke="#133013" stroke-width="1.1"/>
<rect x="199.7" y="135.3" width="7.6" height="7.6" fill="#4e9e4e" stroke="#133013" stroke-width="1.1"/>
<rect x="224.4" y="115.4" width="7.6" height="7.6" fill="#4e9e4e" stroke="#133013" stroke-width="1.1"/>
<rect x="249.2" y="119.2" width="7.6" height="7.6" fill="#4e9e4e" stroke="#133013" stroke-width="1.1"/>
<rect x="273.9" y="113.7" width="7.6" height="7.6" fill="#4e9e4e" stroke="#133013" stroke-width="1.1"/>
<rect x="298.7" y="127.9" width="7.6" height="7.6" fill="#4e9e4e" stroke="#133013" stroke-width="1.1"/>
<rect x="323.4" y="132.5" width="7.6" height="7.6" fill="#4e9e4e" stroke="#133013" stroke-width="1.1"/>
<rect x="348.2" y="143.1" width="7.6" height="7.6" fill="#4e9e4e" stroke="#133013" stroke-width="1.1"/>
<rect x="372.9" y="155.0" width="7.6" height="7.6" fill="#4e9e4e" stroke="#133013" stroke-width="1.1"/>
<rect x="397.7" y="155.6" width="7.6" height="7.6" fill="#4e9e4e" stroke="#133013" stroke-width="1.1"/>
<rect x="422.4" y="163.8" width="7.6" height="7.6" fill="#4e9e4e" stroke="#133013" stroke-width="1.1"/>
<path d="M104.5 133.8L109.3 138.6L104.5 143.4L99.7 138.6Z" fill="#a5cd6b" stroke="#1f3a10" stroke-width="1.1"/>
<path d="M129.2 137.3L134.1 142.1L129.2 146.9L124.5 142.1Z" fill="#a5cd6b" stroke="#1f3a10" stroke-width="1.1"/>
<path d="M154.0 131.7L158.8 136.5L154.0 141.3L149.2 136.5Z" fill="#a5cd6b" stroke="#1f3a10" stroke-width="1.1"/>
<path d="M178.8 136.0L183.6 140.8L178.8 145.6L173.9 140.8Z" fill="#a5cd6b" stroke="#1f3a10" stroke-width="1.1"/>
<path d="M203.5 141.5L208.3 146.3L203.5 151.1L198.7 146.3Z" fill="#a5cd6b" stroke="#1f3a10" stroke-width="1.1"/>
<path d="M228.2 116.6L233.1 121.4L228.2 126.2L223.4 121.4Z" fill="#a5cd6b" stroke="#1f3a10" stroke-width="1.1"/>
<path d="M253.0 132.9L257.8 137.7L253.0 142.5L248.2 137.7Z" fill="#a5cd6b" stroke="#1f3a10" stroke-width="1.1"/>
<path d="M277.8 139.9L282.6 144.7L277.8 149.5L272.9 144.7Z" fill="#a5cd6b" stroke="#1f3a10" stroke-width="1.1"/>
<path d="M302.5 151.1L307.3 155.9L302.5 160.7L297.7 155.9Z" fill="#a5cd6b" stroke="#1f3a10" stroke-width="1.1"/>
<path d="M327.2 161.6L332.1 166.4L327.2 171.2L322.4 166.4Z" fill="#a5cd6b" stroke="#1f3a10" stroke-width="1.1"/>
<path d="M352.0 161.1L356.8 165.9L352.0 170.7L347.2 165.9Z" fill="#a5cd6b" stroke="#1f3a10" stroke-width="1.1"/>
<path d="M376.8 177.1L381.6 181.9L376.8 186.7L371.9 181.9Z" fill="#a5cd6b" stroke="#1f3a10" stroke-width="1.1"/>
<path d="M401.5 187.7L406.3 192.5L401.5 197.3L396.7 192.5Z" fill="#a5cd6b" stroke="#1f3a10" stroke-width="1.1"/>
<path d="M426.2 189.4L431.1 194.2L426.2 199.0L421.4 194.2Z" fill="#a5cd6b" stroke="#1f3a10" stroke-width="1.1"/>
<rect x="100.7" y="155.1" width="7.6" height="7.6" fill="#4e9e4e" stroke="#133013" stroke-width="1.1"/>
<rect x="125.5" y="152.8" width="7.6" height="7.6" fill="#4e9e4e" stroke="#133013" stroke-width="1.1"/>
<rect x="150.2" y="159.5" width="7.6" height="7.6" fill="#4e9e4e" stroke="#133013" stroke-width="1.1"/>
<rect x="174.9" y="150.6" width="7.6" height="7.6" fill="#4e9e4e" stroke="#133013" stroke-width="1.1"/>
<rect x="199.7" y="139.7" width="7.6" height="7.6" fill="#4e9e4e" stroke="#133013" stroke-width="1.1"/>
<rect x="224.4" y="115.8" width="7.6" height="7.6" fill="#4e9e4e" stroke="#133013" stroke-width="1.1"/>
<rect x="249.2" y="123.2" width="7.6" height="7.6" fill="#4e9e4e" stroke="#133013" stroke-width="1.1"/>
<rect x="273.9" y="122.3" width="7.6" height="7.6" fill="#4e9e4e" stroke="#133013" stroke-width="1.1"/>
<rect x="298.7" y="134.0" width="7.6" height="7.6" fill="#4e9e4e" stroke="#133013" stroke-width="1.1"/>
<rect x="323.4" y="144.1" width="7.6" height="7.6" fill="#4e9e4e" stroke="#133013" stroke-width="1.1"/>
<rect x="348.2" y="150.4" width="7.6" height="7.6" fill="#4e9e4e" stroke="#133013" stroke-width="1.1"/>
<rect x="372.9" y="160.7" width="7.6" height="7.6" fill="#4e9e4e" stroke="#133013" stroke-width="1.1"/>
<rect x="397.7" y="154.7" width="7.6" height="7.6" fill="#4e9e4e" stroke="#133013" stroke-width="1.1"/>
<rect x="422.4" y="163.6" width="7.6" height="7.6" fill="#4e9e4e" stroke="#133013" stroke-width="1.1"/>
<path d="M104.5 136.5L109.3 141.3L104.5 146.1L99.7 141.3Z" fill="#a5cd6b" stroke="#1f3a10" stroke-width="1.1"/>
<path d="M129.2 130.0L134.1 134.8L129.2 139.6L124.5 134.8Z" fill="#a5cd6b" stroke="#1f3a10" stroke-width="1.1"/>
<path d="M154.0 132.2L158.8 137.0L154.0 141.8L149.2 137.0Z" fill="#a5cd6b" stroke="#1f3a10" stroke-width="1.1"/>
<path d="M178.8 140.2L183.6 145.0L178.8 149.8L173.9 145.0Z" fill="#a5cd6b" stroke="#1f3a10" stroke-width="1.1"/>
<path d="M203.5 139.4L208.3 144.2L203.5 149.0L198.7 144.2Z" fill="#a5cd6b" stroke="#1f3a10" stroke-width="1.1"/>
<path d="M228.2 118.2L233.1 123.0L228.2 127.8L223.4 123.0Z" fill="#a5cd6b" stroke="#1f3a10" stroke-width="1.1"/>
<path d="M253.0 134.7L257.8 139.5L253.0 144.3L248.2 139.5Z" fill="#a5cd6b" stroke="#1f3a10" stroke-width="1.1"/>
<path d="M277.8 138.2L282.6 143.0L277.8 147.8L272.9 143.0Z" fill="#a5cd6b" stroke="#1f3a10" stroke-width="1.1"/>
<path d="M302.5 146.8L307.3 151.6L302.5 156.4L297.7 151.6Z" fill="#a5cd6b" stroke="#1f3a10" stroke-width="1.1"/>
<path d="M327.2 158.7L332.1 163.5L327.2 168.3L322.4 163.5Z" fill="#a5cd6b" stroke="#1f3a10" stroke-width="1.1"/>
<path d="M352.0 162.4L356.8 167.2L352.0 172.0L347.2 167.2Z" fill="#a5cd6b" stroke="#1f3a10" stroke-width="1.1"/>
<path d="M376.8 179.5L381.6 184.3L376.8 189.1L371.9 184.3Z" fill="#a5cd6b" stroke="#1f3a10" stroke-width="1.1"/>
<path d="M401.5 182.7L406.3 187.5L401.5 192.3L396.7 187.5Z" fill="#a5cd6b" stroke="#1f3a10" stroke-width="1.1"/>
<path d="M426.2 194.6L431.1 199.4L426.2 204.2L421.4 199.4Z" fill="#a5cd6b" stroke="#1f3a10" stroke-width="1.1"/>
<rect x="100.7" y="153.4" width="7.6" height="7.6" fill="#4e9e4e" stroke="#133013" stroke-width="1.1"/>
<rect x="125.5" y="149.6" width="7.6" height="7.6" fill="#4e9e4e" stroke="#133013" stroke-width="1.1"/>
<rect x="150.2" y="151.0" width="7.6" height="7.6" fill="#4e9e4e" stroke="#133013" stroke-width="1.1"/>
<rect x="174.9" y="156.0" width="7.6" height="7.6" fill="#4e9e4e" stroke="#133013" stroke-width="1.1"/>
<rect x="199.7" y="131.4" width="7.6" height="7.6" fill="#4e9e4e" stroke="#133013" stroke-width="1.1"/>
<rect x="224.4" y="118.6" width="7.6" height="7.6" fill="#4e9e4e" stroke="#133013" stroke-width="1.1"/>
<rect x="249.2" y="124.3" width="7.6" height="7.6" fill="#4e9e4e" stroke="#133013" stroke-width="1.1"/>
<rect x="273.9" y="118.7" width="7.6" height="7.6" fill="#4e9e4e" stroke="#133013" stroke-width="1.1"/>
<rect x="298.7" y="133.2" width="7.6" height="7.6" fill="#4e9e4e" stroke="#133013" stroke-width="1.1"/>
<rect x="323.4" y="136.7" width="7.6" height="7.6" fill="#4e9e4e" stroke="#133013" stroke-width="1.1"/>
<rect x="348.2" y="148.0" width="7.6" height="7.6" fill="#4e9e4e" stroke="#133013" stroke-width="1.1"/>
<rect x="372.9" y="159.7" width="7.6" height="7.6" fill="#4e9e4e" stroke="#133013" stroke-width="1.1"/>
<rect x="397.7" y="151.4" width="7.6" height="7.6" fill="#4e9e4e" stroke="#133013" stroke-width="1.1"/>
<rect x="422.4" y="176.9" width="7.6" height="7.6" fill="#4e9e4e" stroke="#133013" stroke-width="1.1"/>
<rect x="100.7" y="158.0" width="7.6" height="7.6" fill="#4e9e4e" stroke="#133013" stroke-width="1.1"/>
<rect x="125.5" y="153.3" width="7.6" height="7.6" fill="#4e9e4e" stroke="#133013" stroke-width="1.1"/>
<rect x="150.2" y="155.9" width="7.6" height="7.6" fill="#4e9e4e" stroke="#133013" stroke-width="1.1"/>
<rect x="174.9" y="149.2" width="7.6" height="7.6" fill="#4e9e4e" stroke="#133013" stroke-width="1.1"/>
<rect x="199.7" y="137.4" width="7.6" height="7.6" fill="#4e9e4e" stroke="#133013" stroke-width="1.1"/>
<rect x="224.4" y="117.2" width="7.6" height="7.6" fill="#4e9e4e" stroke="#133013" stroke-width="1.1"/>
<rect x="249.2" y="124.1" width="7.6" height="7.6" fill="#4e9e4e" stroke="#133013" stroke-width="1.1"/>
<rect x="273.9" y="116.0" width="7.6" height="7.6" fill="#4e9e4e" stroke="#133013" stroke-width="1.1"/>
<rect x="298.7" y="134.2" width="7.6" height="7.6" fill="#4e9e4e" stroke="#133013" stroke-width="1.1"/>
<rect x="323.4" y="140.6" width="7.6" height="7.6" fill="#4e9e4e" stroke="#133013" stroke-width="1.1"/>
<rect x="348.2" y="150.2" width="7.6" height="7.6" fill="#4e9e4e" stroke="#133013" stroke-width="1.1"/>
<rect x="372.9" y="162.9" width="7.6" height="7.6" fill="#4e9e4e" stroke="#133013" stroke-width="1.1"/>
<rect x="397.7" y="157.5" width="7.6" height="7.6" fill="#4e9e4e" stroke="#133013" stroke-width="1.1"/>
<rect x="422.4" y="169.5" width="7.6" height="7.6" fill="#4e9e4e" stroke="#133013" stroke-width="1.1"/>
<rect x="100.7" y="154.7" width="7.6" height="7.6" fill="#4e9e4e" stroke="#133013" stroke-width="1.1"/>
<rect x="125.5" y="154.6" width="7.6" height="7.6" fill="#4e9e4e" stroke="#133013" stroke-width="1.1"/>
<rect x="150.2" y="155.4" width="7.6" height="7.6" fill="#4e9e4e" stroke="#133013" stroke-width="1.1"/>
<rect x="174.9" y="154.3" width="7.6" height="7.6" fill="#4e9e4e" stroke="#133013" stroke-width="1.1"/>
<rect x="199.7" y="131.0" width="7.6" height="7.6" fill="#4e9e4e" stroke="#133013" stroke-width="1.1"/>
<rect x="224.4" y="114.5" width="7.6" height="7.6" fill="#4e9e4e" stroke="#133013" stroke-width="1.1"/>
<rect x="249.2" y="121.9" width="7.6" height="7.6" fill="#4e9e4e" stroke="#133013" stroke-width="1.1"/>
<rect x="273.9" y="116.4" width="7.6" height="7.6" fill="#4e9e4e" stroke="#133013" stroke-width="1.1"/>
<rect x="298.7" y="125.6" width="7.6" height="7.6" fill="#4e9e4e" stroke="#133013" stroke-width="1.1"/>
<rect x="323.4" y="137.9" width="7.6" height="7.6" fill="#4e9e4e" stroke="#133013" stroke-width="1.1"/>
<rect x="348.2" y="150.6" width="7.6" height="7.6" fill="#4e9e4e" stroke="#133013" stroke-width="1.1"/>
<rect x="372.9" y="157.1" width="7.6" height="7.6" fill="#4e9e4e" stroke="#133013" stroke-width="1.1"/>
<rect x="397.7" y="151.8" width="7.6" height="7.6" fill="#4e9e4e" stroke="#133013" stroke-width="1.1"/>
<rect x="422.4" y="172.3" width="7.6" height="7.6" fill="#4e9e4e" stroke="#133013" stroke-width="1.1"/>
<rect x="100.7" y="149.4" width="7.6" height="7.6" fill="#4e9e4e" stroke="#133013" stroke-width="1.1"/>
<rect x="125.5" y="150.8" width="7.6" height="7.6" fill="#4e9e4e" stroke="#133013" stroke-width="1.1"/>
<rect x="150.2" y="156.0" width="7.6" height="7.6" fill="#4e9e4e" stroke="#133013" stroke-width="1.1"/>
<rect x="174.9" y="150.5" width="7.6" height="7.6" fill="#4e9e4e" stroke="#133013" stroke-width="1.1"/>
<rect x="199.7" y="140.9" width="7.6" height="7.6" fill="#4e9e4e" stroke="#133013" stroke-width="1.1"/>
<rect x="224.4" y="118.2" width="7.6" height="7.6" fill="#4e9e4e" stroke="#133013" stroke-width="1.1"/>
<rect x="249.2" y="123.9" width="7.6" height="7.6" fill="#4e9e4e" stroke="#133013" stroke-width="1.1"/>
<rect x="273.9" y="122.8" width="7.6" height="7.6" fill="#4e9e4e" stroke="#133013" stroke-width="1.1"/>
<rect x="298.7" y="130.9" width="7.6" height="7.6" fill="#4e9e4e" stroke="#133013" stroke-width="1.1"/>
<rect x="323.4" y="139.2" width="7.6" height="7.6" fill="#4e9e4e" stroke="#133013" stroke-width="1.1"/>
<rect x="348.2" y="150.6" width="7.6" height="7.6" fill="#4e9e4e" stroke="#133013" stroke-width="1.1"/>
<rect x="372.9" y="164.1" width="7.6" height="7.6" fill="#4e9e4e" stroke="#133013" stroke-width="1.1"/>
<rect x="397.7" y="162.6" width="7.6" height="7.6" fill="#4e9e4e" stroke="#133013" stroke-width="1.1"/>
<rect x="422.4" y="165.3" width="7.6" height="7.6" fill="#4e9e4e" stroke="#133013" stroke-width="1.1"/>
<path d="M104.5 132.9L109.3 137.7L104.5 142.5L99.7 137.7Z" fill="#a5cd6b" stroke="#1f3a10" stroke-width="1.1"/>
<path d="M129.2 129.3L134.1 134.1L129.2 138.9L124.5 134.1Z" fill="#a5cd6b" stroke="#1f3a10" stroke-width="1.1"/>
<path d="M154.0 136.4L158.8 141.2L154.0 146.0L149.2 141.2Z" fill="#a5cd6b" stroke="#1f3a10" stroke-width="1.1"/>
<path d="M178.8 135.3L183.6 140.1L178.8 144.9L173.9 140.1Z" fill="#a5cd6b" stroke="#1f3a10" stroke-width="1.1"/>
<path d="M203.5 141.5L208.3 146.3L203.5 151.1L198.7 146.3Z" fill="#a5cd6b" stroke="#1f3a10" stroke-width="1.1"/>
<path d="M228.2 118.8L233.1 123.6L228.2 128.4L223.4 123.6Z" fill="#a5cd6b" stroke="#1f3a10" stroke-width="1.1"/>
<path d="M253.0 140.3L257.8 145.1L253.0 149.9L248.2 145.1Z" fill="#a5cd6b" stroke="#1f3a10" stroke-width="1.1"/>
<path d="M277.8 142.3L282.6 147.1L277.8 151.9L272.9 147.1Z" fill="#a5cd6b" stroke="#1f3a10" stroke-width="1.1"/>
<path d="M302.5 148.0L307.3 152.8L302.5 157.6L297.7 152.8Z" fill="#a5cd6b" stroke="#1f3a10" stroke-width="1.1"/>
<path d="M327.2 151.0L332.1 155.8L327.2 160.6L322.4 155.8Z" fill="#a5cd6b" stroke="#1f3a10" stroke-width="1.1"/>
<path d="M352.0 160.1L356.8 164.9L352.0 169.7L347.2 164.9Z" fill="#a5cd6b" stroke="#1f3a10" stroke-width="1.1"/>
<path d="M376.8 181.7L381.6 186.5L376.8 191.3L371.9 186.5Z" fill="#a5cd6b" stroke="#1f3a10" stroke-width="1.1"/>
<path d="M401.5 186.5L406.3 191.3L401.5 196.1L396.7 191.3Z" fill="#a5cd6b" stroke="#1f3a10" stroke-width="1.1"/>
<path d="M426.2 190.4L431.1 195.2L426.2 200.0L421.4 195.2Z" fill="#a5cd6b" stroke="#1f3a10" stroke-width="1.1"/>
<path d="M104.5 127.5L109.3 132.3L104.5 137.1L99.7 132.3Z" fill="#a5cd6b" stroke="#1f3a10" stroke-width="1.1"/>
<path d="M129.2 132.6L134.1 137.4L129.2 142.2L124.5 137.4Z" fill="#a5cd6b" stroke="#1f3a10" stroke-width="1.1"/>
<path d="M154.0 134.1L158.8 138.9L154.0 143.7L149.2 138.9Z" fill="#a5cd6b" stroke="#1f3a10" stroke-width="1.1"/>
<path d="M178.8 135.4L183.6 140.2L178.8 145.0L173.9 140.2Z" fill="#a5cd6b" stroke="#1f3a10" stroke-width="1.1"/>
<path d="M203.5 137.9L208.3 142.7L203.5 147.5L198.7 142.7Z" fill="#a5cd6b" stroke="#1f3a10" stroke-width="1.1"/>
<path d="M228.2 119.1L233.1 123.9L228.2 128.7L223.4 123.9Z" fill="#a5cd6b" stroke="#1f3a10" stroke-width="1.1"/>
<path d="M253.0 130.2L257.8 135.0L253.0 139.8L248.2 135.0Z" fill="#a5cd6b" stroke="#1f3a10" stroke-width="1.1"/>
<path d="M277.8 131.0L282.6 135.8L277.8 140.6L272.9 135.8Z" fill="#a5cd6b" stroke="#1f3a10" stroke-width="1.1"/>
<path d="M302.5 148.9L307.3 153.7L302.5 158.5L297.7 153.7Z" fill="#a5cd6b" stroke="#1f3a10" stroke-width="1.1"/>
<path d="M327.2 157.6L332.1 162.4L327.2 167.2L322.4 162.4Z" fill="#a5cd6b" stroke="#1f3a10" stroke-width="1.1"/>
<path d="M352.0 166.4L356.8 171.2L352.0 176.0L347.2 171.2Z" fill="#a5cd6b" stroke="#1f3a10" stroke-width="1.1"/>
<path d="M376.8 165.8L381.6 170.6L376.8 175.4L371.9 170.6Z" fill="#a5cd6b" stroke="#1f3a10" stroke-width="1.1"/>
<path d="M401.5 169.2L406.3 174.0L401.5 178.8L396.7 174.0Z" fill="#a5cd6b" stroke="#1f3a10" stroke-width="1.1"/>
<path d="M426.2 175.5L431.1 180.3L426.2 185.1L421.4 180.3Z" fill="#a5cd6b" stroke="#1f3a10" stroke-width="1.1"/>
<path d="M104.5 136.4L109.3 141.2L104.5 146.0L99.7 141.2Z" fill="#a5cd6b" stroke="#1f3a10" stroke-width="1.1"/>
<path d="M129.2 128.2L134.1 133.0L129.2 137.8L124.5 133.0Z" fill="#a5cd6b" stroke="#1f3a10" stroke-width="1.1"/>
<path d="M154.0 131.4L158.8 136.2L154.0 141.0L149.2 136.2Z" fill="#a5cd6b" stroke="#1f3a10" stroke-width="1.1"/>
<path d="M178.8 133.8L183.6 138.6L178.8 143.4L173.9 138.6Z" fill="#a5cd6b" stroke="#1f3a10" stroke-width="1.1"/>
<path d="M203.5 141.9L208.3 146.7L203.5 151.5L198.7 146.7Z" fill="#a5cd6b" stroke="#1f3a10" stroke-width="1.1"/>
<path d="M228.2 120.1L233.1 124.9L228.2 129.7L223.4 124.9Z" fill="#a5cd6b" stroke="#1f3a10" stroke-width="1.1"/>
<path d="M253.0 131.2L257.8 136.0L253.0 140.8L248.2 136.0Z" fill="#a5cd6b" stroke="#1f3a10" stroke-width="1.1"/>
<path d="M277.8 133.0L282.6 137.8L277.8 142.6L272.9 137.8Z" fill="#a5cd6b" stroke="#1f3a10" stroke-width="1.1"/>
<path d="M302.5 142.2L307.3 147.0L302.5 151.8L297.7 147.0Z" fill="#a5cd6b" stroke="#1f3a10" stroke-width="1.1"/>
<path d="M327.2 151.0L332.1 155.8L327.2 160.6L322.4 155.8Z" fill="#a5cd6b" stroke="#1f3a10" stroke-width="1.1"/>
<path d="M352.0 161.8L356.8 166.6L352.0 171.4L347.2 166.6Z" fill="#a5cd6b" stroke="#1f3a10" stroke-width="1.1"/>
<path d="M376.8 171.9L381.6 176.7L376.8 181.5L371.9 176.7Z" fill="#a5cd6b" stroke="#1f3a10" stroke-width="1.1"/>
<path d="M401.5 172.6L406.3 177.4L401.5 182.2L396.7 177.4Z" fill="#a5cd6b" stroke="#1f3a10" stroke-width="1.1"/>
<path d="M426.2 185.1L431.1 189.9L426.2 194.7L421.4 189.9Z" fill="#a5cd6b" stroke="#1f3a10" stroke-width="1.1"/>
<path d="M104.5 139.6L109.3 144.4L104.5 149.2L99.7 144.4Z" fill="#a5cd6b" stroke="#1f3a10" stroke-width="1.1"/>
<path d="M129.2 132.1L134.1 136.9L129.2 141.7L124.5 136.9Z" fill="#a5cd6b" stroke="#1f3a10" stroke-width="1.1"/>
<path d="M154.0 140.7L158.8 145.5L154.0 150.3L149.2 145.5Z" fill="#a5cd6b" stroke="#1f3a10" stroke-width="1.1"/>
<path d="M178.8 136.7L183.6 141.5L178.8 146.3L173.9 141.5Z" fill="#a5cd6b" stroke="#1f3a10" stroke-width="1.1"/>
<path d="M203.5 140.9L208.3 145.7L203.5 150.5L198.7 145.7Z" fill="#a5cd6b" stroke="#1f3a10" stroke-width="1.1"/>
<path d="M228.2 116.0L233.1 120.8L228.2 125.6L223.4 120.8Z" fill="#a5cd6b" stroke="#1f3a10" stroke-width="1.1"/>
<path d="M253.0 135.3L257.8 140.1L253.0 144.9L248.2 140.1Z" fill="#a5cd6b" stroke="#1f3a10" stroke-width="1.1"/>
<path d="M277.8 138.6L282.6 143.4L277.8 148.2L272.9 143.4Z" fill="#a5cd6b" stroke="#1f3a10" stroke-width="1.1"/>
<path d="M302.5 138.9L307.3 143.7L302.5 148.5L297.7 143.7Z" fill="#a5cd6b" stroke="#1f3a10" stroke-width="1.1"/>
<path d="M327.2 158.8L332.1 163.6L327.2 168.4L322.4 163.6Z" fill="#a5cd6b" stroke="#1f3a10" stroke-width="1.1"/>
<path d="M352.0 159.7L356.8 164.5L352.0 169.3L347.2 164.5Z" fill="#a5cd6b" stroke="#1f3a10" stroke-width="1.1"/>
<path d="M376.8 173.8L381.6 178.6L376.8 183.4L371.9 178.6Z" fill="#a5cd6b" stroke="#1f3a10" stroke-width="1.1"/>
<path d="M401.5 172.8L406.3 177.6L401.5 182.4L396.7 177.6Z" fill="#a5cd6b" stroke="#1f3a10" stroke-width="1.1"/>
<path d="M426.2 184.2L431.1 189.0L426.2 193.8L421.4 189.0Z" fill="#a5cd6b" stroke="#1f3a10" stroke-width="1.1"/>
<path d="M104.5 123.0L109.3 127.8L104.5 132.6L99.7 127.8Z" fill="#a5cd6b" stroke="#1f3a10" stroke-width="1.1"/>
<path d="M129.2 131.3L134.1 136.1L129.2 140.9L124.5 136.1Z" fill="#a5cd6b" stroke="#1f3a10" stroke-width="1.1"/>
<path d="M154.0 129.6L158.8 134.4L154.0 139.2L149.2 134.4Z" fill="#a5cd6b" stroke="#1f3a10" stroke-width="1.1"/>
<path d="M178.8 136.8L183.6 141.6L178.8 146.4L173.9 141.6Z" fill="#a5cd6b" stroke="#1f3a10" stroke-width="1.1"/>
<path d="M203.5 137.2L208.3 142.0L203.5 146.8L198.7 142.0Z" fill="#a5cd6b" stroke="#1f3a10" stroke-width="1.1"/>
<path d="M228.2 114.6L233.1 119.4L228.2 124.2L223.4 119.4Z" fill="#a5cd6b" stroke="#1f3a10" stroke-width="1.1"/>
<path d="M253.0 136.7L257.8 141.5L253.0 146.3L248.2 141.5Z" fill="#a5cd6b" stroke="#1f3a10" stroke-width="1.1"/>
<path d="M277.8 137.8L282.6 142.6L277.8 147.4L272.9 142.6Z" fill="#a5cd6b" stroke="#1f3a10" stroke-width="1.1"/>
<path d="M302.5 136.3L307.3 141.1L302.5 145.9L297.7 141.1Z" fill="#a5cd6b" stroke="#1f3a10" stroke-width="1.1"/>
<path d="M327.2 155.3L332.1 160.1L327.2 164.9L322.4 160.1Z" fill="#a5cd6b" stroke="#1f3a10" stroke-width="1.1"/>
<path d="M352.0 159.9L356.8 164.7L352.0 169.5L347.2 164.7Z" fill="#a5cd6b" stroke="#1f3a10" stroke-width="1.1"/>
<path d="M376.8 170.0L381.6 174.8L376.8 179.6L371.9 174.8Z" fill="#a5cd6b" stroke="#1f3a10" stroke-width="1.1"/>
<path d="M401.5 183.6L406.3 188.4L401.5 193.2L396.7 188.4Z" fill="#a5cd6b" stroke="#1f3a10" stroke-width="1.1"/>
<path d="M426.2 169.8L431.1 174.6L426.2 179.4L421.4 174.6Z" fill="#a5cd6b" stroke="#1f3a10" stroke-width="1.1"/>
<rect x="100.7" y="148.0" width="7.6" height="7.6" fill="#4e9e4e" stroke="#133013" stroke-width="1.1"/>
<rect x="125.5" y="151.2" width="7.6" height="7.6" fill="#4e9e4e" stroke="#133013" stroke-width="1.1"/>
<rect x="150.2" y="151.0" width="7.6" height="7.6" fill="#4e9e4e" stroke="#133013" stroke-width="1.1"/>
<rect x="174.9" y="148.8" width="7.6" height="7.6" fill="#4e9e4e" stroke="#133013" stroke-width="1.1"/>
<rect x="199.7" y="142.0" width="7.6" height="7.6" fill="#4e9e4e" stroke="#133013" stroke-width="1.1"/>
<rect x="224.4" y="118.2" width="7.6" height="7.6" fill="#4e9e4e" stroke="#133013" stroke-width="1.1"/>
<rect x="249.2" y="121.4" width="7.6" height="7.6" fill="#4e9e4e" stroke="#133013" stroke-width="1.1"/>
<rect x="273.9" y="121.8" width="7.6" height="7.6" fill="#4e9e4e" stroke="#133013" stroke-width="1.1"/>
<rect x="298.7" y="126.3" width="7.6" height="7.6" fill="#4e9e4e" stroke="#133013" stroke-width="1.1"/>
<rect x="323.4" y="138.4" width="7.6" height="7.6" fill="#4e9e4e" stroke="#133013" stroke-width="1.1"/>
<rect x="348.2" y="154.3" width="7.6" height="7.6" fill="#4e9e4e" stroke="#133013" stroke-width="1.1"/>
<rect x="372.9" y="159.8" width="7.6" height="7.6" fill="#4e9e4e" stroke="#133013" stroke-width="1.1"/>
<rect x="397.7" y="150.0" width="7.6" height="7.6" fill="#4e9e4e" stroke="#133013" stroke-width="1.1"/>
<rect x="422.4" y="176.5" width="7.6" height="7.6" fill="#4e9e4e" stroke="#133013" stroke-width="1.1"/>
<rect x="100.7" y="147.1" width="7.6" height="7.6" fill="#4e9e4e" stroke="#133013" stroke-width="1.1"/>
<rect x="125.5" y="152.4" width="7.6" height="7.6" fill="#4e9e4e" stroke="#133013" stroke-width="1.1"/>
<rect x="150.2" y="149.8" width="7.6" height="7.6" fill="#4e9e4e" stroke="#133013" stroke-width="1.1"/>
<rect x="174.9" y="146.9" width="7.6" height="7.6" fill="#4e9e4e" stroke="#133013" stroke-width="1.1"/>
<rect x="199.7" y="125.9" width="7.6" height="7.6" fill="#4e9e4e" stroke="#133013" stroke-width="1.1"/>
<rect x="224.4" y="113.3" width="7.6" height="7.6" fill="#4e9e4e" stroke="#133013" stroke-width="1.1"/>
<rect x="249.2" y="121.7" width="7.6" height="7.6" fill="#4e9e4e" stroke="#133013" stroke-width="1.1"/>
<rect x="273.9" y="115.0" width="7.6" height="7.6" fill="#4e9e4e" stroke="#133013" stroke-width="1.1"/>
<rect x="298.7" y="127.7" width="7.6" height="7.6" fill="#4e9e4e" stroke="#133013" stroke-width="1.1"/>
<rect x="323.4" y="136.1" width="7.6" height="7.6" fill="#4e9e4e" stroke="#133013" stroke-width="1.1"/>
<rect x="348.2" y="146.8" width="7.6" height="7.6" fill="#4e9e4e" stroke="#133013" stroke-width="1.1"/>
<rect x="372.9" y="160.8" width="7.6" height="7.6" fill="#4e9e4e" stroke="#133013" stroke-width="1.1"/>
<rect x="397.7" y="152.0" width="7.6" height="7.6" fill="#4e9e4e" stroke="#133013" stroke-width="1.1"/>
<rect x="422.4" y="164.7" width="7.6" height="7.6" fill="#4e9e4e" stroke="#133013" stroke-width="1.1"/>
<path d="M104.5 126.2L109.3 131.0L104.5 135.8L99.7 131.0Z" fill="#a5cd6b" stroke="#1f3a10" stroke-width="1.1"/>
<path d="M129.2 137.8L134.1 142.6L129.2 147.4L124.5 142.6Z" fill="#a5cd6b" stroke="#1f3a10" stroke-width="1.1"/>
<path d="M154.0 133.9L158.8 138.7L154.0 143.5L149.2 138.7Z" fill="#a5cd6b" stroke="#1f3a10" stroke-width="1.1"/>
<path d="M178.8 136.1L183.6 140.9L178.8 145.7L173.9 140.9Z" fill="#a5cd6b" stroke="#1f3a10" stroke-width="1.1"/>
<path d="M203.5 139.0L208.3 143.8L203.5 148.6L198.7 143.8Z" fill="#a5cd6b" stroke="#1f3a10" stroke-width="1.1"/>
<path d="M228.2 117.8L233.1 122.6L228.2 127.4L223.4 122.6Z" fill="#a5cd6b" stroke="#1f3a10" stroke-width="1.1"/>
<path d="M253.0 132.6L257.8 137.4L253.0 142.2L248.2 137.4Z" fill="#a5cd6b" stroke="#1f3a10" stroke-width="1.1"/>
<path d="M277.8 138.0L282.6 142.8L277.8 147.6L272.9 142.8Z" fill="#a5cd6b" stroke="#1f3a10" stroke-width="1.1"/>
<path d="M302.5 145.6L307.3 150.4L302.5 155.2L297.7 150.4Z" fill="#a5cd6b" stroke="#1f3a10" stroke-width="1.1"/>
<path d="M327.2 151.2L332.1 156.0L327.2 160.8L322.4 156.0Z" fill="#a5cd6b" stroke="#1f3a10" stroke-width="1.1"/>
<path d="M352.0 166.1L356.8 170.9L352.0 175.7L347.2 170.9Z" fill="#a5cd6b" stroke="#1f3a10" stroke-width="1.1"/>
<path d="M376.8 172.0L381.6 176.8L376.8 181.6L371.9 176.8Z" fill="#a5cd6b" stroke="#1f3a10" stroke-width="1.1"/>
<path d="M401.5 170.9L406.3 175.7L401.5 180.5L396.7 175.7Z" fill="#a5cd6b" stroke="#1f3a10" stroke-width="1.1"/>
<path d="M426.2 178.6L431.1 183.4L426.2 188.2L421.4 183.4Z" fill="#a5cd6b" stroke="#1f3a10" stroke-width="1.1"/>
<rect x="100.7" y="153.8" width="7.6" height="7.6" fill="#4e9e4e" stroke="#133013" stroke-width="1.1"/>
<rect x="125.5" y="154.4" width="7.6" height="7.6" fill="#4e9e4e" stroke="#133013" stroke-width="1.1"/>
<rect x="150.2" y="156.6" width="7.6" height="7.6" fill="#4e9e4e" stroke="#133013" stroke-width="1.1"/>
<rect x="174.9" y="149.1" width="7.6" height="7.6" fill="#4e9e4e" stroke="#133013" stroke-width="1.1"/>
<rect x="199.7" y="136.2" width="7.6" height="7.6" fill="#4e9e4e" stroke="#133013" stroke-width="1.1"/>
<rect x="224.4" y="114.5" width="7.6" height="7.6" fill="#4e9e4e" stroke="#133013" stroke-width="1.1"/>
<rect x="249.2" y="123.9" width="7.6" height="7.6" fill="#4e9e4e" stroke="#133013" stroke-width="1.1"/>
<rect x="273.9" y="119.8" width="7.6" height="7.6" fill="#4e9e4e" stroke="#133013" stroke-width="1.1"/>
<rect x="298.7" y="125.4" width="7.6" height="7.6" fill="#4e9e4e" stroke="#133013" stroke-width="1.1"/>
<rect x="323.4" y="133.5" width="7.6" height="7.6" fill="#4e9e4e" stroke="#133013" stroke-width="1.1"/>
<rect x="348.2" y="146.7" width="7.6" height="7.6" fill="#4e9e4e" stroke="#133013" stroke-width="1.1"/>
<rect x="372.9" y="156.0" width="7.6" height="7.6" fill="#4e9e4e" stroke="#133013" stroke-width="1.1"/>
<rect x="397.7" y="155.7" width="7.6" height="7.6" fill="#4e9e4e" stroke="#133013" stroke-width="1.1"/>
<rect x="422.4" y="163.2" width="7.6" height="7.6" fill="#4e9e4e" stroke="#133013" stroke-width="1.1"/>
<rect x="100.7" y="152.8" width="7.6" height="7.6" fill="#4e9e4e" stroke="#133013" stroke-width="1.1"/>
<rect x="125.5" y="151.3" width="7.6" height="7.6" fill="#4e9e4e" stroke="#133013" stroke-width="1.1"/>
<rect x="150.2" y="155.0" width="7.6" height="7.6" fill="#4e9e4e" stroke="#133013" stroke-width="1.1"/>
<rect x="174.9" y="149.9" width="7.6" height="7.6" fill="#4e9e4e" stroke="#133013" stroke-width="1.1"/>
<rect x="199.7" y="131.2" width="7.6" height="7.6" fill="#4e9e4e" stroke="#133013" stroke-width="1.1"/>
<rect x="224.4" y="118.8" width="7.6" height="7.6" fill="#4e9e4e" stroke="#133013" stroke-width="1.1"/>
<rect x="249.2" y="125.5" width="7.6" height="7.6" fill="#4e9e4e" stroke="#133013" stroke-width="1.1"/>
<rect x="273.9" y="120.9" width="7.6" height="7.6" fill="#4e9e4e" stroke="#133013" stroke-width="1.1"/>
<rect x="298.7" y="130.2" width="7.6" height="7.6" fill="#4e9e4e" stroke="#133013" stroke-width="1.1"/>
<rect x="323.4" y="137.1" width="7.6" height="7.6" fill="#4e9e4e" stroke="#133013" stroke-width="1.1"/>
<rect x="348.2" y="146.2" width="7.6" height="7.6" fill="#4e9e4e" stroke="#133013" stroke-width="1.1"/>
<rect x="372.9" y="154.9" width="7.6" height="7.6" fill="#4e9e4e" stroke="#133013" stroke-width="1.1"/>
<rect x="397.7" y="148.7" width="7.6" height="7.6" fill="#4e9e4e" stroke="#133013" stroke-width="1.1"/>
<rect x="422.4" y="171.2" width="7.6" height="7.6" fill="#4e9e4e" stroke="#133013" stroke-width="1.1"/>
<path d="M104.5 122.7L109.3 127.5L104.5 132.3L99.7 127.5Z" fill="#a5cd6b" stroke="#1f3a10" stroke-width="1.1"/>
<path d="M129.2 132.2L134.1 137.0L129.2 141.8L124.5 137.0Z" fill="#a5cd6b" stroke="#1f3a10" stroke-width="1.1"/>
<path d="M154.0 132.8L158.8 137.6L154.0 142.4L149.2 137.6Z" fill="#a5cd6b" stroke="#1f3a10" stroke-width="1.1"/>
<path d="M178.8 135.6L183.6 140.4L178.8 145.2L173.9 140.4Z" fill="#a5cd6b" stroke="#1f3a10" stroke-width="1.1"/>
<path d="M203.5 131.2L208.3 136.0L203.5 140.8L198.7 136.0Z" fill="#a5cd6b" stroke="#1f3a10" stroke-width="1.1"/>
<path d="M228.2 116.6L233.1 121.4L228.2 126.2L223.4 121.4Z" fill="#a5cd6b" stroke="#1f3a10" stroke-width="1.1"/>
<path d="M253.0 129.3L257.8 134.1L253.0 138.9L248.2 134.1Z" fill="#a5cd6b" stroke="#1f3a10" stroke-width="1.1"/>
<path d="M277.8 136.2L282.6 141.0L277.8 145.8L272.9 141.0Z" fill="#a5cd6b" stroke="#1f3a10" stroke-width="1.1"/>
<path d="M302.5 140.0L307.3 144.8L302.5 149.6L297.7 144.8Z" fill="#a5cd6b" stroke="#1f3a10" stroke-width="1.1"/>
<path d="M327.2 152.2L332.1 157.0L327.2 161.8L322.4 157.0Z" fill="#a5cd6b" stroke="#1f3a10" stroke-width="1.1"/>
<path d="M352.0 165.9L356.8 170.7L352.0 175.5L347.2 170.7Z" fill="#a5cd6b" stroke="#1f3a10" stroke-width="1.1"/>
<path d="M376.8 167.9L381.6 172.7L376.8 177.5L371.9 172.7Z" fill="#a5cd6b" stroke="#1f3a10" stroke-width="1.1"/>
<path d="M401.5 175.7L406.3 180.5L401.5 185.3L396.7 180.5Z" fill="#a5cd6b" stroke="#1f3a10" stroke-width="1.1"/>
<path d="M426.2 184.7L431.1 189.5L426.2 194.3L421.4 189.5Z" fill="#a5cd6b" stroke="#1f3a10" stroke-width="1.1"/>
<rect x="100.7" y="153.6" width="7.6" height="7.6" fill="#4e9e4e" stroke="#133013" stroke-width="1.1"/>
<rect x="125.5" y="153.3" width="7.6" height="7.6" fill="#4e9e4e" stroke="#133013" stroke-width="1.1"/>
<rect x="150.2" y="152.2" width="7.6" height="7.6" fill="#4e9e4e" stroke="#133013" stroke-width="1.1"/>
<rect x="174.9" y="149.0" width="7.6" height="7.6" fill="#4e9e4e" stroke="#133013" stroke-width="1.1"/>
<rect x="199.7" y="125.8" width="7.6" height="7.6" fill="#4e9e4e" stroke="#133013" stroke-width="1.1"/>
<rect x="224.4" y="112.4" width="7.6" height="7.6" fill="#4e9e4e" stroke="#133013" stroke-width="1.1"/>
<rect x="249.2" y="120.8" width="7.6" height="7.6" fill="#4e9e4e" stroke="#133013" stroke-width="1.1"/>
<rect x="273.9" y="112.8" width="7.6" height="7.6" fill="#4e9e4e" stroke="#133013" stroke-width="1.1"/>
<rect x="298.7" y="123.1" width="7.6" height="7.6" fill="#4e9e4e" stroke="#133013" stroke-width="1.1"/>
<rect x="323.4" y="134.1" width="7.6" height="7.6" fill="#4e9e4e" stroke="#133013" stroke-width="1.1"/>
<rect x="348.2" y="140.8" width="7.6" height="7.6" fill="#4e9e4e" stroke="#133013" stroke-width="1.1"/>
<rect x="372.9" y="153.9" width="7.6" height="7.6" fill="#4e9e4e" stroke="#133013" stroke-width="1.1"/>
<rect x="397.7" y="150.2" width="7.6" height="7.6" fill="#4e9e4e" stroke="#133013" stroke-width="1.1"/>
<rect x="422.4" y="167.9" width="7.6" height="7.6" fill="#4e9e4e" stroke="#133013" stroke-width="1.1"/>
<path d="M104.5 128.9L109.3 133.7L104.5 138.5L99.7 133.7Z" fill="#a5cd6b" stroke="#1f3a10" stroke-width="1.1"/>
<path d="M129.2 126.9L134.1 131.7L129.2 136.5L124.5 131.7Z" fill="#a5cd6b" stroke="#1f3a10" stroke-width="1.1"/>
<path d="M154.0 130.4L158.8 135.2L154.0 140.0L149.2 135.2Z" fill="#a5cd6b" stroke="#1f3a10" stroke-width="1.1"/>
<path d="M178.8 131.4L183.6 136.2L178.8 141.0L173.9 136.2Z" fill="#a5cd6b" stroke="#1f3a10" stroke-width="1.1"/>
<path d="M203.5 139.0L208.3 143.8L203.5 148.6L198.7 143.8Z" fill="#a5cd6b" stroke="#1f3a10" stroke-width="1.1"/>
<path d="M228.2 118.8L233.1 123.6L228.2 128.4L223.4 123.6Z" fill="#a5cd6b" stroke="#1f3a10" stroke-width="1.1"/>
<path d="M253.0 136.0L257.8 140.8L253.0 145.6L248.2 140.8Z" fill="#a5cd6b" stroke="#1f3a10" stroke-width="1.1"/>
<path d="M277.8 131.9L282.6 136.7L277.8 141.5L272.9 136.7Z" fill="#a5cd6b" stroke="#1f3a10" stroke-width="1.1"/>
<path d="M302.5 141.7L307.3 146.5L302.5 151.3L297.7 146.5Z" fill="#a5cd6b" stroke="#1f3a10" stroke-width="1.1"/>
<path d="M327.2 150.7L332.1 155.5L327.2 160.3L322.4 155.5Z" fill="#a5cd6b" stroke="#1f3a10" stroke-width="1.1"/>
<path d="M352.0 167.8L356.8 172.6L352.0 177.4L347.2 172.6Z" fill="#a5cd6b" stroke="#1f3a10" stroke-width="1.1"/>
<path d="M376.8 183.4L381.6 188.2L376.8 193.0L371.9 188.2Z" fill="#a5cd6b" stroke="#1f3a10" stroke-width="1.1"/>
<path d="M401.5 189.5L406.3 194.3L401.5 199.1L396.7 194.3Z" fill="#a5cd6b" stroke="#1f3a10" stroke-width="1.1"/>
<path d="M426.2 175.5L431.1 180.3L426.2 185.1L421.4 180.3Z" fill="#a5cd6b" stroke="#1f3a10" stroke-width="1.1"/>
<path d="M104.5 134.6L109.3 139.4L104.5 144.2L99.7 139.4Z" fill="#a5cd6b" stroke="#1f3a10" stroke-width="1.1"/>
<path d="M129.2 132.4L134.1 137.2L129.2 142.0L124.5 137.2Z" fill="#a5cd6b" stroke="#1f3a10" stroke-width="1.1"/>
<path d="M154.0 131.9L158.8 136.7L154.0 141.5L149.2 136.7Z" fill="#a5cd6b" stroke="#1f3a10" stroke-width="1.1"/>
<path d="M178.8 141.5L183.6 146.3L178.8 151.1L173.9 146.3Z" fill="#a5cd6b" stroke="#1f3a10" stroke-width="1.1"/>
<path d="M203.5 134.9L208.3 139.7L203.5 144.5L198.7 139.7Z" fill="#a5cd6b" stroke="#1f3a10" stroke-width="1.1"/>
<path d="M228.2 117.2L233.1 122.0L228.2 126.8L223.4 122.0Z" fill="#a5cd6b" stroke="#1f3a10" stroke-width="1.1"/>
<path d="M253.0 137.2L257.8 142.0L253.0 146.8L248.2 142.0Z" fill="#a5cd6b" stroke="#1f3a10" stroke-width="1.1"/>
<path d="M277.8 137.9L282.6 142.7L277.8 147.5L272.9 142.7Z" fill="#a5cd6b" stroke="#1f3a10" stroke-width="1.1"/>
<path d="M302.5 149.0L307.3 153.8L302.5 158.6L297.7 153.8Z" fill="#a5cd6b" stroke="#1f3a10" stroke-width="1.1"/>
<path d="M327.2 153.5L332.1 158.3L327.2 163.1L322.4 158.3Z" fill="#a5cd6b" stroke="#1f3a10" stroke-width="1.1"/>
<path d="M352.0 168.4L356.8 173.2L352.0 178.0L347.2 173.2Z" fill="#a5cd6b" stroke="#1f3a10" stroke-width="1.1"/>
<path d="M376.8 171.1L381.6 175.9L376.8 180.7L371.9 175.9Z" fill="#a5cd6b" stroke="#1f3a10" stroke-width="1.1"/>
<path d="M401.5 178.0L406.3 182.8L401.5 187.6L396.7 182.8Z" fill="#a5cd6b" stroke="#1f3a10" stroke-width="1.1"/>
<path d="M426.2 195.3L431.1 200.1L426.2 204.9L421.4 200.1Z" fill="#a5cd6b" stroke="#1f3a10" stroke-width="1.1"/>
<rect x="100.7" y="153.9" width="7.6" height="7.6" fill="#4e9e4e" stroke="#133013" stroke-width="1.1"/>
<rect x="125.5" y="155.3" width="7.6" height="7.6" fill="#4e9e4e" stroke="#133013" stroke-width="1.1"/>
<rect x="150.2" y="155.9" width="7.6" height="7.6" fill="#4e9e4e" stroke="#133013" stroke-width="1.1"/>
<rect x="174.9" y="152.3" width="7.6" height="7.6" fill="#4e9e4e" stroke="#133013" stroke-width="1.1"/>
<rect x="199.7" y="138.7" width="7.6" height="7.6" fill="#4e9e4e" stroke="#133013" stroke-width="1.1"/>
<rect x="224.4" y="118.5" width="7.6" height="7.6" fill="#4e9e4e" stroke="#133013" stroke-width="1.1"/>
<rect x="249.2" y="121.4" width="7.6" height="7.6" fill="#4e9e4e" stroke="#133013" stroke-width="1.1"/>
<rect x="273.9" y="119.8" width="7.6" height="7.6" fill="#4e9e4e" stroke="#133013" stroke-width="1.1"/>
<rect x="298.7" y="132.1" width="7.6" height="7.6" fill="#4e9e4e" stroke="#133013" stroke-width="1.1"/>
<rect x="323.4" y="142.3" width="7.6" height="7.6" fill="#4e9e4e" stroke="#133013" stroke-width="1.1"/>
<rect x="348.2" y="148.5" width="7.6" height="7.6" fill="#4e9e4e" stroke="#133013" stroke-width="1.1"/>
<rect x="372.9" y="160.9" width="7.6" height="7.6" fill="#4e9e4e" stroke="#133013" stroke-width="1.1"/>
<rect x="397.7" y="159.2" width="7.6" height="7.6" fill="#4e9e4e" stroke="#133013" stroke-width="1.1"/>
<rect x="422.4" y="168.0" width="7.6" height="7.6" fill="#4e9e4e" stroke="#133013" stroke-width="1.1"/>
<rect x="100.7" y="154.3" width="7.6" height="7.6" fill="#4e9e4e" stroke="#133013" stroke-width="1.1"/>
<rect x="125.5" y="147.2" width="7.6" height="7.6" fill="#4e9e4e" stroke="#133013" stroke-width="1.1"/>
<rect x="150.2" y="146.9" width="7.6" height="7.6" fill="#4e9e4e" stroke="#133013" stroke-width="1.1"/>
<rect x="174.9" y="147.0" width="7.6" height="7.6" fill="#4e9e4e" stroke="#133013" stroke-width="1.1"/>
<rect x="199.7" y="131.7" width="7.6" height="7.6" fill="#4e9e4e" stroke="#133013" stroke-width="1.1"/>
<rect x="224.4" y="113.3" width="7.6" height="7.6" fill="#4e9e4e" stroke="#133013" stroke-width="1.1"/>
<rect x="249.2" y="119.3" width="7.6" height="7.6" fill="#4e9e4e" stroke="#133013" stroke-width="1.1"/>
<rect x="273.9" y="116.3" width="7.6" height="7.6" fill="#4e9e4e" stroke="#133013" stroke-width="1.1"/>
<rect x="298.7" y="127.8" width="7.6" height="7.6" fill="#4e9e4e" stroke="#133013" stroke-width="1.1"/>
<rect x="323.4" y="134.3" width="7.6" height="7.6" fill="#4e9e4e" stroke="#133013" stroke-width="1.1"/>
<rect x="348.2" y="146.2" width="7.6" height="7.6" fill="#4e9e4e" stroke="#133013" stroke-width="1.1"/>
<rect x="372.9" y="160.4" width="7.6" height="7.6" fill="#4e9e4e" stroke="#133013" stroke-width="1.1"/>
<rect x="397.7" y="158.9" width="7.6" height="7.6" fill="#4e9e4e" stroke="#133013" stroke-width="1.1"/>
<rect x="422.4" y="166.9" width="7.6" height="7.6" fill="#4e9e4e" stroke="#133013" stroke-width="1.1"/>
<path d="M104.5 133.5L109.3 138.3L104.5 143.1L99.7 138.3Z" fill="#a5cd6b" stroke="#1f3a10" stroke-width="1.1"/>
<path d="M129.2 125.5L134.1 130.3L129.2 135.1L124.5 130.3Z" fill="#a5cd6b" stroke="#1f3a10" stroke-width="1.1"/>
<path d="M154.0 134.2L158.8 139.0L154.0 143.8L149.2 139.0Z" fill="#a5cd6b" stroke="#1f3a10" stroke-width="1.1"/>
<path d="M178.8 130.3L183.6 135.1L178.8 139.9L173.9 135.1Z" fill="#a5cd6b" stroke="#1f3a10" stroke-width="1.1"/>
<path d="M203.5 131.9L208.3 136.7L203.5 141.5L198.7 136.7Z" fill="#a5cd6b" stroke="#1f3a10" stroke-width="1.1"/>
<path d="M228.2 118.9L233.1 123.7L228.2 128.5L223.4 123.7Z" fill="#a5cd6b" stroke="#1f3a10" stroke-width="1.1"/>
<path d="M253.0 134.3L257.8 139.1L253.0 143.9L248.2 139.1Z" fill="#a5cd6b" stroke="#1f3a10" stroke-width="1.1"/>
<path d="M277.8 136.4L282.6 141.2L277.8 146.0L272.9 141.2Z" fill="#a5cd6b" stroke="#1f3a10" stroke-width="1.1"/>
<path d="M302.5 142.2L307.3 147.0L302.5 151.8L297.7 147.0Z" fill="#a5cd6b" stroke="#1f3a10" stroke-width="1.1"/>
<path d="M327.2 152.4L332.1 157.2L327.2 162.0L322.4 157.2Z" fill="#a5cd6b" stroke="#1f3a10" stroke-width="1.1"/>
<path d="M352.0 159.8L356.8 164.6L352.0 169.4L347.2 164.6Z" fill="#a5cd6b" stroke="#1f3a10" stroke-width="1.1"/>
<path d="M376.8 171.1L381.6 175.9L376.8 180.7L371.9 175.9Z" fill="#a5cd6b" stroke="#1f3a10" stroke-width="1.1"/>
<path d="M401.5 183.2L406.3 188.0L401.5 192.8L396.7 188.0Z" fill="#a5cd6b" stroke="#1f3a10" stroke-width="1.1"/>
<path d="M426.2 192.7L431.1 197.5L426.2 202.3L421.4 197.5Z" fill="#a5cd6b" stroke="#1f3a10" stroke-width="1.1"/>
<rect x="100.7" y="150.0" width="7.6" height="7.6" fill="#4e9e4e" stroke="#133013" stroke-width="1.1"/>
<rect x="125.5" y="149.8" width="7.6" height="7.6" fill="#4e9e4e" stroke="#133013" stroke-width="1.1"/>
<rect x="150.2" y="159.5" width="7.6" height="7.6" fill="#4e9e4e" stroke="#133013" stroke-width="1.1"/>
<rect x="174.9" y="154.9" width="7.6" height="7.6" fill="#4e9e4e" stroke="#133013" stroke-width="1.1"/>
<rect x="199.7" y="133.4" width="7.6" height="7.6" fill="#4e9e4e" stroke="#133013" stroke-width="1.1"/>
<rect x="224.4" y="115.6" width="7.6" height="7.6" fill="#4e9e4e" stroke="#133013" stroke-width="1.1"/>
<rect x="249.2" y="125.0" width="7.6" height="7.6" fill="#4e9e4e" stroke="#133013" stroke-width="1.1"/>
<rect x="273.9" y="123.2" width="7.6" height="7.6" fill="#4e9e4e" stroke="#133013" stroke-width="1.1"/>
<rect x="298.7" y="127.2" width="7.6" height="7.6" fill="#4e9e4e" stroke="#133013" stroke-width="1.1"/>
<rect x="323.4" y="144.6" width="7.6" height="7.6" fill="#4e9e4e" stroke="#133013" stroke-width="1.1"/>
<rect x="348.2" y="156.0" width="7.6" height="7.6" fill="#4e9e4e" stroke="#133013" stroke-width="1.1"/>
<rect x="372.9" y="160.7" width="7.6" height="7.6" fill="#4e9e4e" stroke="#133013" stroke-width="1.1"/>
<rect x="397.7" y="155.7" width="7.6" height="7.6" fill="#4e9e4e" stroke="#133013" stroke-width="1.1"/>
<rect x="422.4" y="162.6" width="7.6" height="7.6" fill="#4e9e4e" stroke="#133013" stroke-width="1.1"/>
<rect x="100.7" y="152.2" width="7.6" height="7.6" fill="#4e9e4e" stroke="#133013" stroke-width="1.1"/>
<rect x="125.5" y="155.0" width="7.6" height="7.6" fill="#4e9e4e" stroke="#133013" stroke-width="1.1"/>
<rect x="150.2" y="151.7" width="7.6" height="7.6" fill="#4e9e4e" stroke="#133013" stroke-width="1.1"/>
<rect x="174.9" y="150.6" width="7.6" height="7.6" fill="#4e9e4e" stroke="#133013" stroke-width="1.1"/>
<rect x="199.7" y="139.3" width="7.6" height="7.6" fill="#4e9e4e" stroke="#133013" stroke-width="1.1"/>
<rect x="224.4" y="117.6" width="7.6" height="7.6" fill="#4e9e4e" stroke="#133013" stroke-width="1.1"/>
<rect x="249.2" y="124.9" width="7.6" height="7.6" fill="#4e9e4e" stroke="#133013" stroke-width="1.1"/>
<rect x="273.9" y="117.7" width="7.6" height="7.6" fill="#4e9e4e" stroke="#133013" stroke-width="1.1"/>
<rect x="298.7" y="129.3" width="7.6" height="7.6" fill="#4e9e4e" stroke="#133013" stroke-width="1.1"/>
<rect x="323.4" y="135.8" width="7.6" height="7.6" fill="#4e9e4e" stroke="#133013" stroke-width="1.1"/>
<rect x="348.2" y="151.5" width="7.6" height="7.6" fill="#4e9e4e" stroke="#133013" stroke-width="1.1"/>
<rect x="372.9" y="160.6" width="7.6" height="7.6" fill="#4e9e4e" stroke="#133013" stroke-width="1.1"/>
<rect x="397.7" y="155.7" width="7.6" height="7.6" fill="#4e9e4e" stroke="#133013" stroke-width="1.1"/>
<rect x="422.4" y="169.7" width="7.6" height="7.6" fill="#4e9e4e" stroke="#133013" stroke-width="1.1"/>
<path d="M104.5 135.6L109.3 140.4L104.5 145.2L99.7 140.4Z" fill="#a5cd6b" stroke="#1f3a10" stroke-width="1.1"/>
<path d="M129.2 127.6L134.1 132.4L129.2 137.2L124.5 132.4Z" fill="#a5cd6b" stroke="#1f3a10" stroke-width="1.1"/>
<path d="M154.0 134.6L158.8 139.4L154.0 144.2L149.2 139.4Z" fill="#a5cd6b" stroke="#1f3a10" stroke-width="1.1"/>
<path d="M178.8 130.9L183.6 135.7L178.8 140.5L173.9 135.7Z" fill="#a5cd6b" stroke="#1f3a10" stroke-width="1.1"/>
<path d="M203.5 134.1L208.3 138.9L203.5 143.7L198.7 138.9Z" fill="#a5cd6b" stroke="#1f3a10" stroke-width="1.1"/>
<path d="M228.2 117.1L233.1 121.9L228.2 126.7L223.4 121.9Z" fill="#a5cd6b" stroke="#1f3a10" stroke-width="1.1"/>
<path d="M253.0 131.0L257.8 135.8L253.0 140.6L248.2 135.8Z" fill="#a5cd6b" stroke="#1f3a10" stroke-width="1.1"/>
<path d="M277.8 133.4L282.6 138.2L277.8 143.0L272.9 138.2Z" fill="#a5cd6b" stroke="#1f3a10" stroke-width="1.1"/>
<path d="M302.5 135.7L307.3 140.5L302.5 145.3L297.7 140.5Z" fill="#a5cd6b" stroke="#1f3a10" stroke-width="1.1"/>
<path d="M327.2 152.7L332.1 157.5L327.2 162.3L322.4 157.5Z" fill="#a5cd6b" stroke="#1f3a10" stroke-width="1.1"/>
<path d="M352.0 164.3L356.8 169.1L352.0 173.9L347.2 169.1Z" fill="#a5cd6b" stroke="#1f3a10" stroke-width="1.1"/>
<path d="M376.8 165.5L381.6 170.3L376.8 175.1L371.9 170.3Z" fill="#a5cd6b" stroke="#1f3a10" stroke-width="1.1"/>
<path d="M401.5 173.7L406.3 178.5L401.5 183.3L396.7 178.5Z" fill="#a5cd6b" stroke="#1f3a10" stroke-width="1.1"/>
<path d="M426.2 184.3L431.1 189.1L426.2 193.9L421.4 189.1Z" fill="#a5cd6b" stroke="#1f3a10" stroke-width="1.1"/>
<rect x="100.7" y="154.2" width="7.6" height="7.6" fill="#4e9e4e" stroke="#133013" stroke-width="1.1"/>
<rect x="125.5" y="149.6" width="7.6" height="7.6" fill="#4e9e4e" stroke="#133013" stroke-width="1.1"/>
<rect x="150.2" y="157.4" width="7.6" height="7.6" fill="#4e9e4e" stroke="#133013" stroke-width="1.1"/>
<rect x="174.9" y="152.9" width="7.6" height="7.6" fill="#4e9e4e" stroke="#133013" stroke-width="1.1"/>
<rect x="199.7" y="126.3" width="7.6" height="7.6" fill="#4e9e4e" stroke="#133013" stroke-width="1.1"/>
<rect x="224.4" y="114.4" width="7.6" height="7.6" fill="#4e9e4e" stroke="#133013" stroke-width="1.1"/>
<rect x="249.2" y="124.5" width="7.6" height="7.6" fill="#4e9e4e" stroke="#133013" stroke-width="1.1"/>
<rect x="273.9" y="117.5" width="7.6" height="7.6" fill="#4e9e4e" stroke="#133013" stroke-width="1.1"/>
<rect x="298.7" y="132.1" width="7.6" height="7.6" fill="#4e9e4e" stroke="#133013" stroke-width="1.1"/>
<rect x="323.4" y="137.3" width="7.6" height="7.6" fill="#4e9e4e" stroke="#133013" stroke-width="1.1"/>
<rect x="348.2" y="143.6" width="7.6" height="7.6" fill="#4e9e4e" stroke="#133013" stroke-width="1.1"/>
<rect x="372.9" y="158.1" width="7.6" height="7.6" fill="#4e9e4e" stroke="#133013" stroke-width="1.1"/>
<rect x="397.7" y="157.1" width="7.6" height="7.6" fill="#4e9e4e" stroke="#133013" stroke-width="1.1"/>
<rect x="422.4" y="161.0" width="7.6" height="7.6" fill="#4e9e4e" stroke="#133013" stroke-width="1.1"/>
<rect x="100.7" y="146.0" width="7.6" height="7.6" fill="#4e9e4e" stroke="#133013" stroke-width="1.1"/>
<rect x="125.5" y="145.4" width="7.6" height="7.6" fill="#4e9e4e" stroke="#133013" stroke-width="1.1"/>
<rect x="150.2" y="153.1" width="7.6" height="7.6" fill="#4e9e4e" stroke="#133013" stroke-width="1.1"/>
<rect x="174.9" y="148.4" width="7.6" height="7.6" fill="#4e9e4e" stroke="#133013" stroke-width="1.1"/>
<rect x="199.7" y="134.0" width="7.6" height="7.6" fill="#4e9e4e" stroke="#133013" stroke-width="1.1"/>
<rect x="224.4" y="116.3" width="7.6" height="7.6" fill="#4e9e4e" stroke="#133013" stroke-width="1.1"/>
<rect x="249.2" y="123.3" width="7.6" height="7.6" fill="#4e9e4e" stroke="#133013" stroke-width="1.1"/>
<rect x="273.9" y="120.7" width="7.6" height="7.6" fill="#4e9e4e" stroke="#133013" stroke-width="1.1"/>
<rect x="298.7" y="128.6" width="7.6" height="7.6" fill="#4e9e4e" stroke="#133013" stroke-width="1.1"/>
<rect x="323.4" y="134.7" width="7.6" height="7.6" fill="#4e9e4e" stroke="#133013" stroke-width="1.1"/>
<rect x="348.2" y="147.3" width="7.6" height="7.6" fill="#4e9e4e" stroke="#133013" stroke-width="1.1"/>
<rect x="372.9" y="151.8" width="7.6" height="7.6" fill="#4e9e4e" stroke="#133013" stroke-width="1.1"/>
<rect x="397.7" y="146.0" width="7.6" height="7.6" fill="#4e9e4e" stroke="#133013" stroke-width="1.1"/>
<rect x="422.4" y="163.1" width="7.6" height="7.6" fill="#4e9e4e" stroke="#133013" stroke-width="1.1"/>
<rect x="100.7" y="149.1" width="7.6" height="7.6" fill="#4e9e4e" stroke="#133013" stroke-width="1.1"/>
<rect x="125.5" y="150.1" width="7.6" height="7.6" fill="#4e9e4e" stroke="#133013" stroke-width="1.1"/>
<rect x="150.2" y="152.8" width="7.6" height="7.6" fill="#4e9e4e" stroke="#133013" stroke-width="1.1"/>
<rect x="174.9" y="153.0" width="7.6" height="7.6" fill="#4e9e4e" stroke="#133013" stroke-width="1.1"/>
<rect x="199.7" y="136.1" width="7.6" height="7.6" fill="#4e9e4e" stroke="#133013" stroke-width="1.1"/>
<rect x="224.4" y="117.4" width="7.6" height="7.6" fill="#4e9e4e" stroke="#133013" stroke-width="1.1"/>
<rect x="249.2" y="124.6" width="7.6" height="7.6" fill="#4e9e4e" stroke="#133013" stroke-width="1.1"/>
<rect x="273.9" y="118.3" width="7.6" height="7.6" fill="#4e9e4e" stroke="#133013" stroke-width="1.1"/>
<rect x="298.7" y="131.9" width="7.6" height="7.6" fill="#4e9e4e" stroke="#133013" stroke-width="1.1"/>
<rect x="323.4" y="143.4" width="7.6" height="7.6" fill="#4e9e4e" stroke="#133013" stroke-width="1.1"/>
<rect x="348.2" y="145.7" width="7.6" height="7.6" fill="#4e9e4e" stroke="#133013" stroke-width="1.1"/>
<rect x="372.9" y="163.6" width="7.6" height="7.6" fill="#4e9e4e" stroke="#133013" stroke-width="1.1"/>
<rect x="397.7" y="158.6" width="7.6" height="7.6" fill="#4e9e4e" stroke="#133013" stroke-width="1.1"/>
<rect x="422.4" y="161.6" width="7.6" height="7.6" fill="#4e9e4e" stroke="#133013" stroke-width="1.1"/>
<path d="M104.5 124.3L109.3 129.1L104.5 133.9L99.7 129.1Z" fill="#a5cd6b" stroke="#1f3a10" stroke-width="1.1"/>
<path d="M129.2 129.1L134.1 133.9L129.2 138.7L124.5 133.9Z" fill="#a5cd6b" stroke="#1f3a10" stroke-width="1.1"/>
<path d="M154.0 135.8L158.8 140.6L154.0 145.4L149.2 140.6Z" fill="#a5cd6b" stroke="#1f3a10" stroke-width="1.1"/>
<path d="M178.8 136.3L183.6 141.1L178.8 145.9L173.9 141.1Z" fill="#a5cd6b" stroke="#1f3a10" stroke-width="1.1"/>
<path d="M203.5 133.9L208.3 138.7L203.5 143.5L198.7 138.7Z" fill="#a5cd6b" stroke="#1f3a10" stroke-width="1.1"/>
<path d="M228.2 120.4L233.1 125.2L228.2 130.0L223.4 125.2Z" fill="#a5cd6b" stroke="#1f3a10" stroke-width="1.1"/>
<path d="M253.0 135.8L257.8 140.6L253.0 145.4L248.2 140.6Z" fill="#a5cd6b" stroke="#1f3a10" stroke-width="1.1"/>
<path d="M277.8 132.9L282.6 137.7L277.8 142.5L272.9 137.7Z" fill="#a5cd6b" stroke="#1f3a10" stroke-width="1.1"/>
<path d="M302.5 145.9L307.3 150.7L302.5 155.5L297.7 150.7Z" fill="#a5cd6b" stroke="#1f3a10" stroke-width="1.1"/>
<path d="M327.2 153.9L332.1 158.7L327.2 163.5L322.4 158.7Z" fill="#a5cd6b" stroke="#1f3a10" stroke-width="1.1"/>
<path d="M352.0 163.4L356.8 168.2L352.0 173.0L347.2 168.2Z" fill="#a5cd6b" stroke="#1f3a10" stroke-width="1.1"/>
<path d="M376.8 172.2L381.6 177.0L376.8 181.8L371.9 177.0Z" fill="#a5cd6b" stroke="#1f3a10" stroke-width="1.1"/>
<path d="M401.5 188.6L406.3 193.4L401.5 198.2L396.7 193.4Z" fill="#a5cd6b" stroke="#1f3a10" stroke-width="1.1"/>
<path d="M426.2 187.8L431.1 192.6L426.2 197.4L421.4 192.6Z" fill="#a5cd6b" stroke="#1f3a10" stroke-width="1.1"/>
<path d="M104.5 133.7L109.3 138.5L104.5 143.3L99.7 138.5Z" fill="#a5cd6b" stroke="#1f3a10" stroke-width="1.1"/>
<path d="M129.2 133.4L134.1 138.2L129.2 143.0L124.5 138.2Z" fill="#a5cd6b" stroke="#1f3a10" stroke-width="1.1"/>
<path d="M154.0 137.6L158.8 142.4L154.0 147.2L149.2 142.4Z" fill="#a5cd6b" stroke="#1f3a10" stroke-width="1.1"/>
<path d="M178.8 131.8L183.6 136.6L178.8 141.4L173.9 136.6Z" fill="#a5cd6b" stroke="#1f3a10" stroke-width="1.1"/>
<path d="M203.5 133.4L208.3 138.2L203.5 143.0L198.7 138.2Z" fill="#a5cd6b" stroke="#1f3a10" stroke-width="1.1"/>
<path d="M228.2 119.6L233.1 124.4L228.2 129.2L223.4 124.4Z" fill="#a5cd6b" stroke="#1f3a10" stroke-width="1.1"/>
<path d="M253.0 129.8L257.8 134.6L253.0 139.4L248.2 134.6Z" fill="#a5cd6b" stroke="#1f3a10" stroke-width="1.1"/>
<path d="M277.8 139.8L282.6 144.6L277.8 149.4L272.9 144.6Z" fill="#a5cd6b" stroke="#1f3a10" stroke-width="1.1"/>
<path d="M302.5 147.0L307.3 151.8L302.5 156.6L297.7 151.8Z" fill="#a5cd6b" stroke="#1f3a10" stroke-width="1.1"/>
<path d="M327.2 146.6L332.1 151.4L327.2 156.2L322.4 151.4Z" fill="#a5cd6b" stroke="#1f3a10" stroke-width="1.1"/>
<path d="M352.0 159.0L356.8 163.8L352.0 168.6L347.2 163.8Z" fill="#a5cd6b" stroke="#1f3a10" stroke-width="1.1"/>
<path d="M376.8 175.5L381.6 180.3L376.8 185.1L371.9 180.3Z" fill="#a5cd6b" stroke="#1f3a10" stroke-width="1.1"/>
<path d="M401.5 171.7L406.3 176.5L401.5 181.3L396.7 176.5Z" fill="#a5cd6b" stroke="#1f3a10" stroke-width="1.1"/>
<path d="M426.2 168.6L431.1 173.4L426.2 178.2L421.4 173.4Z" fill="#a5cd6b" stroke="#1f3a10" stroke-width="1.1"/>
<rect x="100.7" y="147.8" width="7.6" height="7.6" fill="#4e9e4e" stroke="#133013" stroke-width="1.1"/>
<rect x="125.5" y="152.6" width="7.6" height="7.6" fill="#4e9e4e" stroke="#133013" stroke-width="1.1"/>
<rect x="150.2" y="153.4" width="7.6" height="7.6" fill="#4e9e4e" stroke="#133013" stroke-width="1.1"/>
<rect x="174.9" y="155.3" width="7.6" height="7.6" fill="#4e9e4e" stroke="#133013" stroke-width="1.1"/>
<rect x="199.7" y="141.7" width="7.6" height="7.6" fill="#4e9e4e" stroke="#133013" stroke-width="1.1"/>
<rect x="224.4" y="115.5" width="7.6" height="7.6" fill="#4e9e4e" stroke="#133013" stroke-width="1.1"/>
<rect x="249.2" y="122.7" width="7.6" height="7.6" fill="#4e9e4e" stroke="#133013" stroke-width="1.1"/>
<rect x="273.9" y="116.1" width="7.6" height="7.6" fill="#4e9e4e" stroke="#133013" stroke-width="1.1"/>
<rect x="298.7" y="128.5" width="7.6" height="7.6" fill="#4e9e4e" stroke="#133013" stroke-width="1.1"/>
<rect x="323.4" y="142.5" width="7.6" height="7.6" fill="#4e9e4e" stroke="#133013" stroke-width="1.1"/>
<rect x="348.2" y="155.1" width="7.6" height="7.6" fill="#4e9e4e" stroke="#133013" stroke-width="1.1"/>
<rect x="372.9" y="158.1" width="7.6" height="7.6" fill="#4e9e4e" stroke="#133013" stroke-width="1.1"/>
<rect x="397.7" y="153.2" width="7.6" height="7.6" fill="#4e9e4e" stroke="#133013" stroke-width="1.1"/>
<rect x="422.4" y="162.5" width="7.6" height="7.6" fill="#4e9e4e" stroke="#133013" stroke-width="1.1"/>
<rect x="100.7" y="147.7" width="7.6" height="7.6" fill="#4e9e4e" stroke="#133013" stroke-width="1.1"/>
<rect x="125.5" y="153.5" width="7.6" height="7.6" fill="#4e9e4e" stroke="#133013" stroke-width="1.1"/>
<rect x="150.2" y="154.4" width="7.6" height="7.6" fill="#4e9e4e" stroke="#133013" stroke-width="1.1"/>
<rect x="174.9" y="149.0" width="7.6" height="7.6" fill="#4e9e4e" stroke="#133013" stroke-width="1.1"/>
<rect x="199.7" y="139.0" width="7.6" height="7.6" fill="#4e9e4e" stroke="#133013" stroke-width="1.1"/>
<rect x="224.4" y="116.9" width="7.6" height="7.6" fill="#4e9e4e" stroke="#133013" stroke-width="1.1"/>
<rect x="249.2" y="123.8" width="7.6" height="7.6" fill="#4e9e4e" stroke="#133013" stroke-width="1.1"/>
<rect x="273.9" y="122.5" width="7.6" height="7.6" fill="#4e9e4e" stroke="#133013" stroke-width="1.1"/>
<rect x="298.7" y="127.2" width="7.6" height="7.6" fill="#4e9e4e" stroke="#133013" stroke-width="1.1"/>
<rect x="323.4" y="135.5" width="7.6" height="7.6" fill="#4e9e4e" stroke="#133013" stroke-width="1.1"/>
<rect x="348.2" y="148.4" width="7.6" height="7.6" fill="#4e9e4e" stroke="#133013" stroke-width="1.1"/>
<rect x="372.9" y="160.9" width="7.6" height="7.6" fill="#4e9e4e" stroke="#133013" stroke-width="1.1"/>
<rect x="397.7" y="152.1" width="7.6" height="7.6" fill="#4e9e4e" stroke="#133013" stroke-width="1.1"/>
<rect x="422.4" y="162.6" width="7.6" height="7.6" fill="#4e9e4e" stroke="#133013" stroke-width="1.1"/>
<circle cx="104.5" cy="100.5" r="3.6" fill="#e8843a" stroke="#4a2208" stroke-width="1"/>
<circle cx="129.2" cy="108.6" r="3.6" fill="#e8843a" stroke="#4a2208" stroke-width="1"/>
<circle cx="154.0" cy="112.0" r="3.6" fill="#e8843a" stroke="#4a2208" stroke-width="1"/>
<circle cx="178.8" cy="116.0" r="3.6" fill="#e8843a" stroke="#4a2208" stroke-width="1"/>
<circle cx="203.5" cy="135.0" r="3.6" fill="#e8843a" stroke="#4a2208" stroke-width="1"/>
<circle cx="228.2" cy="119.0" r="3.6" fill="#e8843a" stroke="#4a2208" stroke-width="1"/>
<circle cx="253.0" cy="159.5" r="3.6" fill="#e8843a" stroke="#4a2208" stroke-width="1"/>
<circle cx="277.8" cy="180.0" r="3.6" fill="#e8843a" stroke="#4a2208" stroke-width="1"/>
<circle cx="302.5" cy="202.5" r="3.6" fill="#e8843a" stroke="#4a2208" stroke-width="1"/>
<circle cx="327.2" cy="222.5" r="3.6" fill="#e8843a" stroke="#4a2208" stroke-width="1"/>
<circle cx="352.0" cy="240.0" r="3.6" fill="#e8843a" stroke="#4a2208" stroke-width="1"/>
<circle cx="376.8" cy="266.5" r="3.6" fill="#e8843a" stroke="#4a2208" stroke-width="1"/>
<circle cx="401.5" cy="279.4" r="3.6" fill="#e8843a" stroke="#4a2208" stroke-width="1"/>
<circle cx="426.2" cy="291.7" r="3.6" fill="#e8843a" stroke="#4a2208" stroke-width="1"/>
<circle cx="104.5" cy="103.5" r="3.6" fill="#e8843a" stroke="#4a2208" stroke-width="1"/>
<circle cx="129.2" cy="108.6" r="3.6" fill="#e8843a" stroke="#4a2208" stroke-width="1"/>
<circle cx="154.0" cy="112.0" r="3.6" fill="#e8843a" stroke="#4a2208" stroke-width="1"/>
<circle cx="178.8" cy="116.0" r="3.6" fill="#e8843a" stroke="#4a2208" stroke-width="1"/>
<circle cx="203.5" cy="139.0" r="3.6" fill="#e8843a" stroke="#4a2208" stroke-width="1"/>
<circle cx="228.2" cy="121.0" r="3.6" fill="#e8843a" stroke="#4a2208" stroke-width="1"/>
<circle cx="253.0" cy="162.0" r="3.6" fill="#e8843a" stroke="#4a2208" stroke-width="1"/>
<circle cx="277.8" cy="187.5" r="3.6" fill="#e8843a" stroke="#4a2208" stroke-width="1"/>
<circle cx="302.5" cy="209.0" r="3.6" fill="#e8843a" stroke="#4a2208" stroke-width="1"/>
<circle cx="327.2" cy="227.5" r="3.6" fill="#e8843a" stroke="#4a2208" stroke-width="1"/>
<circle cx="352.0" cy="248.6" r="3.6" fill="#e8843a" stroke="#4a2208" stroke-width="1"/>
<circle cx="376.8" cy="273.0" r="3.6" fill="#e8843a" stroke="#4a2208" stroke-width="1"/>
<circle cx="401.5" cy="282.7" r="3.6" fill="#e8843a" stroke="#4a2208" stroke-width="1"/>
<circle cx="426.2" cy="297.2" r="3.6" fill="#e8843a" stroke="#4a2208" stroke-width="1"/>
<circle cx="104.5" cy="107.0" r="3.6" fill="#e8843a" stroke="#4a2208" stroke-width="1"/>
<circle cx="129.2" cy="113.0" r="3.6" fill="#e8843a" stroke="#4a2208" stroke-width="1"/>
<circle cx="154.0" cy="117.0" r="3.6" fill="#e8843a" stroke="#4a2208" stroke-width="1"/>
<circle cx="178.8" cy="122.0" r="3.6" fill="#e8843a" stroke="#4a2208" stroke-width="1"/>
<circle cx="203.5" cy="144.7" r="3.6" fill="#e8843a" stroke="#4a2208" stroke-width="1"/>
<circle cx="228.2" cy="127.0" r="3.6" fill="#e8843a" stroke="#4a2208" stroke-width="1"/>
<circle cx="253.0" cy="178.0" r="3.6" fill="#e8843a" stroke="#4a2208" stroke-width="1"/>
<circle cx="277.8" cy="200.5" r="3.6" fill="#e8843a" stroke="#4a2208" stroke-width="1"/>
<circle cx="302.5" cy="211.0" r="3.6" fill="#e8843a" stroke="#4a2208" stroke-width="1"/>
<circle cx="327.2" cy="231.4" r="3.6" fill="#e8843a" stroke="#4a2208" stroke-width="1"/>
<circle cx="352.0" cy="258.3" r="3.6" fill="#e8843a" stroke="#4a2208" stroke-width="1"/>
<circle cx="376.8" cy="285.9" r="3.6" fill="#e8843a" stroke="#4a2208" stroke-width="1"/>
<circle cx="401.5" cy="287.5" r="3.6" fill="#e8843a" stroke="#4a2208" stroke-width="1"/>
<circle cx="426.2" cy="308.6" r="3.6" fill="#e8843a" stroke="#4a2208" stroke-width="1"/>
<circle cx="104.5" cy="113.0" r="3.6" fill="#e8843a" stroke="#4a2208" stroke-width="1"/>
<circle cx="129.2" cy="121.0" r="3.6" fill="#e8843a" stroke="#4a2208" stroke-width="1"/>
<circle cx="154.0" cy="127.0" r="3.6" fill="#e8843a" stroke="#4a2208" stroke-width="1"/>
<circle cx="178.8" cy="130.5" r="3.6" fill="#e8843a" stroke="#4a2208" stroke-width="1"/>
<circle cx="203.5" cy="157.7" r="3.6" fill="#e8843a" stroke="#4a2208" stroke-width="1"/>
<circle cx="228.2" cy="132.6" r="3.6" fill="#e8843a" stroke="#4a2208" stroke-width="1"/>
<circle cx="253.0" cy="180.5" r="3.6" fill="#e8843a" stroke="#4a2208" stroke-width="1"/>
<circle cx="277.8" cy="200.5" r="3.6" fill="#e8843a" stroke="#4a2208" stroke-width="1"/>
<circle cx="302.5" cy="223.7" r="3.6" fill="#e8843a" stroke="#4a2208" stroke-width="1"/>
<circle cx="327.2" cy="238.9" r="3.6" fill="#e8843a" stroke="#4a2208" stroke-width="1"/>
<circle cx="352.0" cy="266.5" r="3.6" fill="#e8843a" stroke="#4a2208" stroke-width="1"/>
<circle cx="376.8" cy="287.5" r="3.6" fill="#e8843a" stroke="#4a2208" stroke-width="1"/>
<circle cx="401.5" cy="294.0" r="3.6" fill="#e8843a" stroke="#4a2208" stroke-width="1"/>
<circle cx="426.2" cy="311.8" r="3.6" fill="#e8843a" stroke="#4a2208" stroke-width="1"/>
<circle cx="104.5" cy="124.0" r="3.6" fill="#e8843a" stroke="#4a2208" stroke-width="1"/>
<circle cx="129.2" cy="131.5" r="3.6" fill="#e8843a" stroke="#4a2208" stroke-width="1"/>
<circle cx="154.0" cy="138.3" r="3.6" fill="#e8843a" stroke="#4a2208" stroke-width="1"/>
<circle cx="178.8" cy="144.0" r="3.6" fill="#e8843a" stroke="#4a2208" stroke-width="1"/>
<circle cx="203.5" cy="166.6" r="3.6" fill="#e8843a" stroke="#4a2208" stroke-width="1"/>
<circle cx="228.2" cy="134.0" r="3.6" fill="#e8843a" stroke="#4a2208" stroke-width="1"/>
<circle cx="253.0" cy="195.5" r="3.6" fill="#e8843a" stroke="#4a2208" stroke-width="1"/>
<circle cx="277.8" cy="217.5" r="3.6" fill="#e8843a" stroke="#4a2208" stroke-width="1"/>
<circle cx="302.5" cy="232.5" r="3.6" fill="#e8843a" stroke="#4a2208" stroke-width="1"/>
<circle cx="327.2" cy="250.2" r="3.6" fill="#e8843a" stroke="#4a2208" stroke-width="1"/>
<circle cx="352.0" cy="273.0" r="3.6" fill="#e8843a" stroke="#4a2208" stroke-width="1"/>
<circle cx="376.8" cy="293.4" r="3.6" fill="#e8843a" stroke="#4a2208" stroke-width="1"/>
<circle cx="401.5" cy="296.6" r="3.6" fill="#e8843a" stroke="#4a2208" stroke-width="1"/>
<circle cx="426.2" cy="315.1" r="3.6" fill="#e8843a" stroke="#4a2208" stroke-width="1"/>
<circle cx="104.5" cy="141.0" r="3.6" fill="#e8843a" stroke="#4a2208" stroke-width="1"/>
<circle cx="129.2" cy="145.9" r="3.6" fill="#e8843a" stroke="#4a2208" stroke-width="1"/>
<circle cx="154.0" cy="148.6" r="3.6" fill="#e8843a" stroke="#4a2208" stroke-width="1"/>
<circle cx="178.8" cy="151.2" r="3.6" fill="#e8843a" stroke="#4a2208" stroke-width="1"/>
<circle cx="203.5" cy="144.0" r="3.6" fill="#e8843a" stroke="#4a2208" stroke-width="1"/>
<circle cx="228.2" cy="126.0" r="3.6" fill="#e8843a" stroke="#4a2208" stroke-width="1"/>
<circle cx="253.0" cy="198.7" r="3.6" fill="#e8843a" stroke="#4a2208" stroke-width="1"/>
<circle cx="277.8" cy="222.5" r="3.6" fill="#e8843a" stroke="#4a2208" stroke-width="1"/>
<circle cx="302.5" cy="239.5" r="3.6" fill="#e8843a" stroke="#4a2208" stroke-width="1"/>
<circle cx="327.2" cy="256.7" r="3.6" fill="#e8843a" stroke="#4a2208" stroke-width="1"/>
<circle cx="352.0" cy="276.8" r="3.6" fill="#e8843a" stroke="#4a2208" stroke-width="1"/>
<circle cx="376.8" cy="298.9" r="3.6" fill="#e8843a" stroke="#4a2208" stroke-width="1"/>
<circle cx="401.5" cy="313.5" r="3.6" fill="#e8843a" stroke="#4a2208" stroke-width="1"/>
<circle cx="426.2" cy="318.3" r="3.6" fill="#e8843a" stroke="#4a2208" stroke-width="1"/>
<circle cx="104.5" cy="103.5" r="3.6" fill="#e8843a" stroke="#4a2208" stroke-width="1"/>
<circle cx="129.2" cy="113.0" r="3.6" fill="#e8843a" stroke="#4a2208" stroke-width="1"/>
<circle cx="154.0" cy="117.0" r="3.6" fill="#e8843a" stroke="#4a2208" stroke-width="1"/>
<circle cx="178.8" cy="122.0" r="3.6" fill="#e8843a" stroke="#4a2208" stroke-width="1"/>
<circle cx="203.5" cy="139.0" r="3.6" fill="#e8843a" stroke="#4a2208" stroke-width="1"/>
<circle cx="228.2" cy="128.0" r="3.6" fill="#e8843a" stroke="#4a2208" stroke-width="1"/>
<circle cx="253.0" cy="197.0" r="3.6" fill="#e8843a" stroke="#4a2208" stroke-width="1"/>
<circle cx="277.8" cy="220.0" r="3.6" fill="#e8843a" stroke="#4a2208" stroke-width="1"/>
<circle cx="302.5" cy="236.0" r="3.6" fill="#e8843a" stroke="#4a2208" stroke-width="1"/>
<circle cx="327.2" cy="253.5" r="3.6" fill="#e8843a" stroke="#4a2208" stroke-width="1"/>
<circle cx="352.0" cy="275.0" r="3.6" fill="#e8843a" stroke="#4a2208" stroke-width="1"/>
<circle cx="376.8" cy="296.0" r="3.6" fill="#e8843a" stroke="#4a2208" stroke-width="1"/>
<circle cx="401.5" cy="296.6" r="3.6" fill="#e8843a" stroke="#4a2208" stroke-width="1"/>
<circle cx="426.2" cy="316.0" r="3.6" fill="#e8843a" stroke="#4a2208" stroke-width="1"/>
<rect x="91.5" y="284.5" width="125" height="51.5" fill="#fff" stroke="#333" stroke-width="1.1"/>
<line x1="105" y1="297" x2="138" y2="297" stroke="#5cb85c" stroke-width="1.3"/>
<path d="M121.4 291.6L126.8 297L121.4 302.4L116 297Z" fill="#a5cd6b" stroke="#1f3a10" stroke-width="1"/>
<line x1="105" y1="310.5" x2="138" y2="310.5" stroke="#5cb85c" stroke-width="1.3"/>
<rect x="117.6" y="306.7" width="7.6" height="7.6" fill="#4e9e4e" stroke="#143214" stroke-width="1"/>
<line x1="105" y1="323.5" x2="138" y2="323.5" stroke="#e8903c" stroke-width="1.5"/>
<circle cx="121.4" cy="323.5" r="4.3" fill="#e8843a" stroke="#4a2208" stroke-width="1"/>
<text x="150.4" y="301" font-size="11.5" font-family="Liberation Serif, serif" fill="#1e1e1e" stroke="#1e1e1e" stroke-width="0.25">Scp-I rims</text>
<text x="150.4" y="314.5" font-size="11.5" font-family="Liberation Serif, serif" fill="#1e1e1e" stroke="#1e1e1e" stroke-width="0.25">Scp-I cores</text>
<text x="150.4" y="327.5" font-size="11.5" font-family="Liberation Serif, serif" fill="#1e1e1e" stroke="#1e1e1e" stroke-width="0.25">Scp-II</text>
<rect x="80" y="26.5" width="370" height="322.0" fill="none" stroke="#1a1a1a" stroke-width="1.8"/>
<line x1="80" y1="348.5" x2="86.5" y2="348.5" stroke="#1a1a1a" stroke-width="1.4"/>
<line x1="80" y1="316.2" x2="83.4" y2="316.2" stroke="#1a1a1a" stroke-width="1.4"/>
<line x1="80" y1="297.3" x2="83.4" y2="297.3" stroke="#1a1a1a" stroke-width="1.4"/>
<line x1="80" y1="283.9" x2="83.4" y2="283.9" stroke="#1a1a1a" stroke-width="1.4"/>
<line x1="80" y1="273.5" x2="83.4" y2="273.5" stroke="#1a1a1a" stroke-width="1.4"/>
<line x1="80" y1="265.0" x2="83.4" y2="265.0" stroke="#1a1a1a" stroke-width="1.4"/>
<line x1="80" y1="257.8" x2="83.4" y2="257.8" stroke="#1a1a1a" stroke-width="1.4"/>
<line x1="80" y1="251.6" x2="83.4" y2="251.6" stroke="#1a1a1a" stroke-width="1.4"/>
<line x1="80" y1="246.1" x2="83.4" y2="246.1" stroke="#1a1a1a" stroke-width="1.4"/>
<line x1="80" y1="241.2" x2="86.5" y2="241.2" stroke="#1a1a1a" stroke-width="1.4"/>
<line x1="80" y1="208.9" x2="83.4" y2="208.9" stroke="#1a1a1a" stroke-width="1.4"/>
<line x1="80" y1="190.0" x2="83.4" y2="190.0" stroke="#1a1a1a" stroke-width="1.4"/>
<line x1="80" y1="176.5" x2="83.4" y2="176.5" stroke="#1a1a1a" stroke-width="1.4"/>
<line x1="80" y1="166.1" x2="83.4" y2="166.1" stroke="#1a1a1a" stroke-width="1.4"/>
<line x1="80" y1="157.6" x2="83.4" y2="157.6" stroke="#1a1a1a" stroke-width="1.4"/>
<line x1="80" y1="150.5" x2="83.4" y2="150.5" stroke="#1a1a1a" stroke-width="1.4"/>
<line x1="80" y1="144.2" x2="83.4" y2="144.2" stroke="#1a1a1a" stroke-width="1.4"/>
<line x1="80" y1="138.7" x2="83.4" y2="138.7" stroke="#1a1a1a" stroke-width="1.4"/>
<line x1="80" y1="133.8" x2="86.5" y2="133.8" stroke="#1a1a1a" stroke-width="1.4"/>
<line x1="80" y1="101.5" x2="83.4" y2="101.5" stroke="#1a1a1a" stroke-width="1.4"/>
<line x1="80" y1="82.6" x2="83.4" y2="82.6" stroke="#1a1a1a" stroke-width="1.4"/>
<line x1="80" y1="69.2" x2="83.4" y2="69.2" stroke="#1a1a1a" stroke-width="1.4"/>
<line x1="80" y1="58.8" x2="83.4" y2="58.8" stroke="#1a1a1a" stroke-width="1.4"/>
<line x1="80" y1="50.3" x2="83.4" y2="50.3" stroke="#1a1a1a" stroke-width="1.4"/>
<line x1="80" y1="43.1" x2="83.4" y2="43.1" stroke="#1a1a1a" stroke-width="1.4"/>
<line x1="80" y1="36.9" x2="83.4" y2="36.9" stroke="#1a1a1a" stroke-width="1.4"/>
<line x1="80" y1="31.4" x2="83.4" y2="31.4" stroke="#1a1a1a" stroke-width="1.4"/>
<text x="75" y="32.6" font-size="15" text-anchor="end" font-family="Liberation Serif, serif" fill="#1e1e1e" stroke="#1e1e1e" stroke-width="0.25">100</text>
<text x="74.5" y="139.5" font-size="15" text-anchor="end" font-family="Liberation Serif, serif" fill="#1e1e1e" stroke="#1e1e1e" stroke-width="0.25">10</text>
<text x="74.5" y="247.3" font-size="15" text-anchor="end" font-family="Liberation Serif, serif" fill="#1e1e1e" stroke="#1e1e1e" stroke-width="0.25">1</text>
<text x="74.5" y="355.5" font-size="15" text-anchor="end" font-family="Liberation Serif, serif" fill="#1e1e1e" stroke="#1e1e1e" stroke-width="0.25">0.1</text>
<text x="93.8" y="365.5" font-size="13.3" font-family="Liberation Serif, serif" fill="#1e1e1e" stroke="#1e1e1e" stroke-width="0.25">La</text>
<text x="118.6" y="365.5" font-size="13.3" font-family="Liberation Serif, serif" fill="#1e1e1e" stroke="#1e1e1e" stroke-width="0.25">Ce</text>
<text x="141" y="365.5" font-size="13.3" font-family="Liberation Serif, serif" fill="#1e1e1e" stroke="#1e1e1e" stroke-width="0.25">Pr</text>
<text x="164.2" y="365.5" font-size="13.3" font-family="Liberation Serif, serif" fill="#1e1e1e" stroke="#1e1e1e" stroke-width="0.25">Nd</text>
<text x="187.4" y="365.5" font-size="13.3" font-family="Liberation Serif, serif" fill="#1e1e1e" stroke="#1e1e1e" stroke-width="0.25">Sm</text>
<text x="213" y="365.5" font-size="13.3" font-family="Liberation Serif, serif" fill="#1e1e1e" stroke="#1e1e1e" stroke-width="0.25">Eu</text>
<text x="238.8" y="365.5" font-size="13.3" font-family="Liberation Serif, serif" fill="#1e1e1e" stroke="#1e1e1e" stroke-width="0.25">Gd</text>
<text x="266.5" y="365.5" font-size="13.3" font-family="Liberation Serif, serif" fill="#1e1e1e" stroke="#1e1e1e" stroke-width="0.25">Tb</text>
<text x="290.6" y="365.5" font-size="13.3" font-family="Liberation Serif, serif" fill="#1e1e1e" stroke="#1e1e1e" stroke-width="0.25">Dy</text>
<text x="318" y="365.5" font-size="13.3" font-family="Liberation Serif, serif" fill="#1e1e1e" stroke="#1e1e1e" stroke-width="0.25">Ho</text>
<text x="342.5" y="365.5" font-size="13.3" font-family="Liberation Serif, serif" fill="#1e1e1e" stroke="#1e1e1e" stroke-width="0.25">Er</text>
<text x="368" y="365.5" font-size="13.3" font-family="Liberation Serif, serif" fill="#1e1e1e" stroke="#1e1e1e" stroke-width="0.25">Tm</text>
<text x="400.9" y="365.5" font-size="13.3" font-family="Liberation Serif, serif" fill="#1e1e1e" stroke="#1e1e1e" stroke-width="0.25">Yb</text>
<text x="423.4" y="365.5" font-size="13.3" font-family="Liberation Serif, serif" fill="#1e1e1e" stroke="#1e1e1e" stroke-width="0.25">Lu</text>
<text transform="translate(42,188.3) rotate(-90)" font-size="16" text-anchor="middle" font-family="Liberation Serif, serif" fill="#2e2e2e">Scapolite/Chondrite</text>
<text x="22" y="37.8" font-size="22" font-family="Liberation Sans, sans-serif" fill="#111">A</text>
<rect x="507.8" y="266.2" width="475.99999999999994" height="79.30000000000001" fill="#f1eff0"/>
<path d="M522 46 V250" fill="none" stroke="#7a7a7a" stroke-width="3.2" stroke-dasharray="15,4"/>
<circle cx="642.9" cy="243.4" r="3.4" fill="#8e8e8e"/>
<circle cx="642.9" cy="255.1" r="3.4" fill="#8e8e8e"/>
<circle cx="658.4" cy="245.5" r="3.4" fill="#8e8e8e"/>
<circle cx="664.0" cy="245.0" r="3.4" fill="#8e8e8e"/>
<circle cx="669.6" cy="247.4" r="3.4" fill="#8e8e8e"/>
<circle cx="676.8" cy="248.7" r="3.4" fill="#8e8e8e"/>
<circle cx="683.2" cy="250.6" r="3.4" fill="#8e8e8e"/>
<circle cx="686.4" cy="249.0" r="3.4" fill="#8e8e8e"/>
<circle cx="691.2" cy="250.6" r="3.4" fill="#8e8e8e"/>
<circle cx="696.0" cy="248.2" r="3.4" fill="#8e8e8e"/>
<circle cx="697.6" cy="253.0" r="3.4" fill="#8e8e8e"/>
<circle cx="704.0" cy="249.0" r="3.4" fill="#8e8e8e"/>
<circle cx="708.8" cy="250.6" r="3.4" fill="#8e8e8e"/>
<circle cx="715.2" cy="249.8" r="3.4" fill="#8e8e8e"/>
<circle cx="720.0" cy="251.4" r="3.4" fill="#8e8e8e"/>
<circle cx="721.6" cy="255.4" r="3.4" fill="#8e8e8e"/>
<circle cx="727.2" cy="247.4" r="3.4" fill="#8e8e8e"/>
<circle cx="729.6" cy="251.4" r="3.4" fill="#8e8e8e"/>
<circle cx="737.6" cy="251.4" r="3.4" fill="#8e8e8e"/>
<circle cx="738.4" cy="254.6" r="3.4" fill="#8e8e8e"/>
<circle cx="744.0" cy="252.5" r="3.4" fill="#8e8e8e"/>
<circle cx="753.6" cy="253.5" r="3.4" fill="#8e8e8e"/>
<circle cx="757.6" cy="253.5" r="3.4" fill="#8e8e8e"/>
<circle cx="764.0" cy="253.5" r="3.4" fill="#8e8e8e"/>
<circle cx="775.2" cy="253.8" r="3.4" fill="#8e8e8e"/>
<circle cx="792.0" cy="243.1" r="3.4" fill="#8e8e8e"/>
<circle cx="792.0" cy="254.6" r="3.4" fill="#8e8e8e"/>
<circle cx="673.0" cy="249.0" r="3.4" fill="#8e8e8e"/>
<circle cx="700.0" cy="251.0" r="3.4" fill="#8e8e8e"/>
<circle cx="711.0" cy="248.5" r="3.4" fill="#8e8e8e"/>
<circle cx="733.0" cy="250.0" r="3.4" fill="#8e8e8e"/>
<circle cx="748.0" cy="251.0" r="3.4" fill="#8e8e8e"/>
<circle cx="611.8" cy="207.5" r="3.5" fill="#e07fb0"/>
<circle cx="611.5" cy="234.7" r="3.5" fill="#e07fb0"/>
<circle cx="600.4" cy="232.3" r="3.5" fill="#e07fb0"/>
<circle cx="553.7" cy="245.6" r="3.5" fill="#e07fb0"/>
<path d="M525.2 244.9 H594" fill="none" stroke="#a8a8a8" stroke-width="3" stroke-dasharray="15.3,3.2"/>
<path d="M520.9,66.3 L520.9,66.5 L521.1,66.9 L521.4,67.5 L521.2,67.2 L521.1,66.8 L521.0,66.7 L521.0,66.7 L521.0,66.9 L521.1,67.2 L521.1,67.7 L521.2,68.3 L521.2,69.1 L521.3,70.2 L521.3,71.4 L521.4,72.8 L521.5,74.3 L521.6,76.0 L521.7,77.7 L521.8,79.5 L521.9,81.4 L522.0,83.2 L522.0,85.0 L522.1,86.7 L522.2,88.4 L522.3,90.0 L522.3,91.6 L522.4,93.2 L522.4,94.9 L522.5,96.5 L522.5,98.1 L522.6,99.8 L522.7,101.4 L522.7,103.0 L522.8,104.7 L522.9,106.3 L523.0,107.9 L523.1,109.6 L523.3,111.2 L523.4,112.8 L523.6,114.4 L523.7,116.0 L523.9,117.6 L524.1,119.2 L524.3,120.8 L524.5,122.4 L524.7,124.0 L524.8,125.6 L525.0,127.1 L525.2,128.7 L525.4,130.3 L525.5,131.8 L525.7,133.4 L525.9,135.0 L526.0,136.6 L526.2,138.1 L526.4,139.7 L526.6,141.3 L526.8,142.9 L527.0,144.4 L527.2,146.0 L527.5,147.6 L527.7,149.1 L528.0,150.7 L528.3,152.2 L528.5,153.7 L528.8,155.3 L529.1,156.8 L529.4,158.3 L529.7,159.9 L530.0,161.4 L530.3,163.0 L530.6,164.6 L530.9,166.2 L531.2,167.8 L531.5,169.4 L531.8,171.1 L532.1,172.7 L532.5,174.4 L532.8,176.1 L533.1,177.8 L533.5,179.4 L533.8,181.1 L534.2,182.8 L534.7,184.5 L535.1,186.2 L535.5,187.9 L535.9,189.5 L536.4,191.2 L536.8,193.0 L537.3,194.7 L537.8,196.4 L538.4,198.1 L539.0,199.8 L539.6,201.5 L540.3,203.2 L541.1,204.9 L541.9,206.6 L542.8,208.3 L543.7,209.9 L544.7,211.6 L545.7,213.3 L546.8,214.9 L547.8,216.6 L548.9,218.1 L550.1,219.7 L551.2,221.2 L552.4,222.6 L553.5,224.0 L554.7,225.2 L555.9,226.5 L557.1,227.6 L558.3,228.7 L559.6,229.8 L560.8,230.8 L562.1,231.8 L563.5,232.7 L564.8,233.7 L566.2,234.6 L567.7,235.4 L569.2,236.3 L570.7,237.2 L572.4,238.0 L574.0,238.9 L575.8,239.7 L577.5,240.5 L579.3,241.2 L581.1,242.0 L583.0,242.7 L584.9,243.4 L586.8,244.0 L588.7,244.6 L590.6,245.1 L592.6,245.6 L594.6,246.0 L596.6,246.4 L598.6,246.7 L600.6,246.9 L602.6,247.1 L604.6,247.3 L606.6,247.5 L608.5,247.7 L610.4,247.9 L612.4,248.1 L614.3,248.3 L616.2,248.5 L617.9,248.7 L619.6,248.9 L621.2,249.0 L622.8,249.2 L624.6,249.4 L626.4,249.6 L628.5,249.7 L630.8,249.9 L633.3,250.1 L636.3,250.3 L639.6,250.5 L643.4,250.7 L647.5,250.9 L652.0,251.1 L656.7,251.4 L661.7,251.6 L666.9,251.8 L672.2,252.0 L677.7,252.3 L683.2,252.5 L688.7,252.8 L694.2,253.0 L699.7,253.3 L705.3,253.6 L711.1,253.9 L717.2,254.2 L723.4,254.5 L729.6,254.8 L735.9,255.1 L742.1,255.4 L748.2,255.7 L754.1,256.0 L759.6,256.3 L764.9,256.6 L769.7,256.8 L774.0,257.0 L778.0,257.2 L781.5,257.3 L784.7,257.4 L787.8,257.6 L790.7,257.7 L793.6,257.8 L796.4,257.9 L799.4,258.0 L802.6,258.1 L806.0,258.2 L809.7,258.4 L813.7,258.5 L817.5,258.7 L821.4,258.8 L825.3,259.0 L829.4,259.1 L833.6,259.3 L838.0,259.5 L842.6,259.7 L847.5,259.9 L852.8,260.1 L858.6,260.3 L864.7,260.6 L871.7,260.9 L879.8,261.3 L888.7,261.7 L898.1,262.1 L907.8,262.6 L917.6,263.0 L927.2,263.5 L936.4,263.9 L944.9,264.3 L952.4,264.7 L958.8,265.0 L963.7,265.2 L964.3,259.2 L959.4,259.0 L953.0,258.7 L945.5,258.3 L937.0,257.9 L927.8,257.5 L918.2,257.0 L908.4,256.6 L898.7,256.1 L889.3,255.7 L880.4,255.3 L872.3,254.9 L865.3,254.6 L859.1,254.3 L853.4,254.1 L848.1,253.9 L843.1,253.7 L838.5,253.5 L834.1,253.3 L829.9,253.2 L825.8,253.0 L821.9,252.9 L818.0,252.7 L814.2,252.6 L810.3,252.4 L806.5,252.3 L803.1,252.1 L799.9,252.0 L796.9,251.9 L794.0,251.8 L791.2,251.7 L788.3,251.6 L785.3,251.5 L782.0,251.3 L778.5,251.2 L774.6,251.0 L770.3,250.8 L765.5,250.6 L760.3,250.3 L754.7,250.1 L748.8,249.8 L742.8,249.4 L736.6,249.1 L730.3,248.8 L724.0,248.5 L717.8,248.2 L711.8,247.9 L705.9,247.6 L700.3,247.3 L694.8,247.0 L689.3,246.8 L683.8,246.5 L678.2,246.3 L672.8,246.1 L667.5,245.8 L662.3,245.6 L657.3,245.4 L652.6,245.1 L648.2,244.9 L644.1,244.7 L640.4,244.5 L637.1,244.3 L634.2,244.1 L631.7,243.9 L629.5,243.8 L627.6,243.6 L625.8,243.4 L624.1,243.3 L622.6,243.1 L621.0,242.9 L619.4,242.7 L617.6,242.5 L615.7,242.3 L613.6,242.1 L611.6,241.9 L609.7,241.8 L607.7,241.6 L605.8,241.4 L604.0,241.2 L602.2,241.0 L600.4,240.8 L598.7,240.5 L597.0,240.2 L595.4,239.9 L593.8,239.5 L592.1,239.0 L590.5,238.5 L588.8,238.0 L587.2,237.4 L585.5,236.8 L583.9,236.1 L582.3,235.4 L580.7,234.7 L579.2,234.0 L577.7,233.2 L576.2,232.5 L574.8,231.7 L573.5,230.9 L572.2,230.1 L570.9,229.3 L569.7,228.5 L568.6,227.7 L567.4,226.9 L566.4,226.0 L565.3,225.1 L564.2,224.1 L563.2,223.1 L562.1,222.0 L561.1,220.8 L560.0,219.6 L559.0,218.3 L557.9,216.9 L556.8,215.5 L555.8,214.0 L554.8,212.5 L553.8,211.0 L552.9,209.4 L551.9,207.8 L551.1,206.2 L550.3,204.6 L549.5,203.1 L548.8,201.5 L548.1,200.0 L547.5,198.4 L547.0,196.8 L546.5,195.1 L546.0,193.5 L545.5,191.8 L545.0,190.2 L544.6,188.5 L544.2,186.8 L543.8,185.2 L543.3,183.5 L542.9,181.8 L542.5,180.2 L542.2,178.6 L541.8,176.9 L541.5,175.3 L541.2,173.6 L540.9,172.0 L540.6,170.3 L540.3,168.7 L540.0,167.0 L539.7,165.4 L539.4,163.8 L539.1,162.2 L538.7,160.6 L538.4,159.1 L538.1,157.6 L537.8,156.0 L537.6,154.5 L537.3,153.0 L537.0,151.5 L536.7,150.0 L536.5,148.4 L536.2,146.9 L536.0,145.4 L535.8,143.9 L535.5,142.3 L535.3,140.8 L535.2,139.2 L535.0,137.7 L534.8,136.1 L534.6,134.5 L534.5,133.0 L534.3,131.4 L534.1,129.8 L534.0,128.3 L533.8,126.7 L533.6,125.1 L533.4,123.5 L533.2,121.9 L533.1,120.3 L532.9,118.8 L532.7,117.2 L532.5,115.6 L532.4,114.0 L532.2,112.4 L532.1,110.8 L531.9,109.2 L531.8,107.7 L531.7,106.1 L531.6,104.5 L531.5,102.9 L531.5,101.2 L531.4,99.6 L531.3,98.0 L531.3,96.4 L531.2,94.7 L531.2,93.1 L531.1,91.5 L531.1,89.8 L531.0,88.2 L530.9,86.5 L530.8,84.8 L530.7,83.0 L530.7,81.1 L530.6,79.3 L530.5,77.5 L530.4,75.8 L530.3,74.1 L530.2,72.6 L530.1,71.2 L530.1,69.9 L530.0,68.9 L529.9,68.0 L529.9,67.4 L529.9,66.9 L529.8,66.5 L529.8,66.2 L529.8,65.9 L529.7,65.6 L529.5,65.1 L529.3,64.8 L529.6,65.4 L529.7,65.7 L529.7,65.7Z" fill="url(#bandg)"/>
<circle cx="525" cy="84" r="4.6" fill="#ec8a62" fill-opacity="0.55" stroke="#3a1a10" stroke-width="1.1"/>
<circle cx="526" cy="103" r="4.6" fill="#ec8a62" fill-opacity="0.55" stroke="#3a1a10" stroke-width="1.1"/>
<circle cx="526" cy="113" r="4.6" fill="#ec8a62" fill-opacity="0.55" stroke="#3a1a10" stroke-width="1.1"/>
<circle cx="533.3" cy="157.9" r="4.6" fill="#ec8a62" fill-opacity="0.55" stroke="#3a1a10" stroke-width="1.1"/>
<circle cx="547.2" cy="193.7" r="4.6" fill="#ec8a62" fill-opacity="0.55" stroke="#3a1a10" stroke-width="1.1"/>
<circle cx="554.2" cy="206.8" r="4.6" fill="#ec8a62" fill-opacity="0.55" stroke="#3a1a10" stroke-width="1.1"/>
<circle cx="540" cy="188" r="4.6" fill="#ec8a62" fill-opacity="0.55" stroke="#3a1a10" stroke-width="1.1"/>
<path d="M529.8 130.1L535.8 136.1L529.8 142.1L523.8 136.1Z" fill="url(#dig)" fill-opacity="0.7" stroke="#13230c" stroke-width="1.2"/>
<path d="M532.4 139.7L538.4 145.7L532.4 151.7L526.4 145.7Z" fill="url(#dig)" fill-opacity="0.7" stroke="#13230c" stroke-width="1.2"/>
<path d="M534.2 160.6L540.2 166.6L534.2 172.6L528.2 166.6Z" fill="url(#dig)" fill-opacity="0.7" stroke="#13230c" stroke-width="1.2"/>
<path d="M536 165L542 171L536 177L530 171Z" fill="url(#dig)" fill-opacity="0.7" stroke="#13230c" stroke-width="1.2"/>
<path d="M537.7 171.1L543.7 177.1L537.7 183.1L531.7 177.1Z" fill="url(#dig)" fill-opacity="0.7" stroke="#13230c" stroke-width="1.2"/>
<path d="M539.4 176.3L545.4 182.3L539.4 188.3L533.4 182.3Z" fill="url(#dig)" fill-opacity="0.7" stroke="#13230c" stroke-width="1.2"/>
<path d="M542.9 183.3L548.9 189.3L542.9 195.3L536.9 189.3Z" fill="url(#dig)" fill-opacity="0.7" stroke="#13230c" stroke-width="1.2"/>
<path d="M545 190L551 196L545 202L539 196Z" fill="url(#dig)" fill-opacity="0.7" stroke="#13230c" stroke-width="1.2"/>
<path d="M541 180L547 186L541 192L535 186Z" fill="url(#dig)" fill-opacity="0.7" stroke="#13230c" stroke-width="1.2"/>
<path d="M532 146L538 152L532 158L526 152Z" fill="url(#dig)" fill-opacity="0.7" stroke="#13230c" stroke-width="1.2"/>
<rect x="551.1999999999999" y="208.20000000000002" width="9.4" height="9.4" fill="url(#sqg)" stroke="#0f250f" stroke-width="1.2"/>
<rect x="556.5" y="210.8" width="9.4" height="9.4" fill="url(#sqg)" stroke="#0f250f" stroke-width="1.2"/>
<rect x="561.6999999999999" y="216.10000000000002" width="9.4" height="9.4" fill="url(#sqg)" stroke="#0f250f" stroke-width="1.2"/>
<rect x="566.9" y="220.4" width="9.4" height="9.4" fill="url(#sqg)" stroke="#0f250f" stroke-width="1.2"/>
<rect x="572.1999999999999" y="223.0" width="9.4" height="9.4" fill="url(#sqg)" stroke="#0f250f" stroke-width="1.2"/>
<rect x="577.4" y="227.4" width="9.4" height="9.4" fill="url(#sqg)" stroke="#0f250f" stroke-width="1.2"/>
<rect x="582.5999999999999" y="230.0" width="9.4" height="9.4" fill="url(#sqg)" stroke="#0f250f" stroke-width="1.2"/>
<rect x="589.5999999999999" y="232.60000000000002" width="9.4" height="9.4" fill="url(#sqg)" stroke="#0f250f" stroke-width="1.2"/>
<rect x="598.3" y="235.3" width="9.4" height="9.4" fill="url(#sqg)" stroke="#0f250f" stroke-width="1.2"/>
<rect x="608.8" y="237.8" width="9.4" height="9.4" fill="url(#sqg)" stroke="#0f250f" stroke-width="1.2"/>
<rect x="555.5999999999999" y="214.3" width="9.4" height="9.4" fill="url(#sqg)" stroke="#0f250f" stroke-width="1.2"/>
<rect x="560.0" y="219.5" width="9.4" height="9.4" fill="url(#sqg)" stroke="#0f250f" stroke-width="1.2"/>
<rect x="565.1999999999999" y="223.9" width="9.4" height="9.4" fill="url(#sqg)" stroke="#0f250f" stroke-width="1.2"/>
<rect x="572.1999999999999" y="227.4" width="9.4" height="9.4" fill="url(#sqg)" stroke="#0f250f" stroke-width="1.2"/>
<rect x="578.3" y="231.3" width="9.4" height="9.4" fill="url(#sqg)" stroke="#0f250f" stroke-width="1.2"/>
<rect x="585.3" y="233.8" width="9.4" height="9.4" fill="url(#sqg)" stroke="#0f250f" stroke-width="1.2"/>
<rect x="593.3" y="235.8" width="9.4" height="9.4" fill="url(#sqg)" stroke="#0f250f" stroke-width="1.2"/>
<rect x="603.3" y="237.3" width="9.4" height="9.4" fill="url(#sqg)" stroke="#0f250f" stroke-width="1.2"/>
<rect x="543.3" y="201.3" width="9.4" height="9.4" fill="url(#sqg)" stroke="#0f250f" stroke-width="1.2"/>
<rect x="546.3" y="198.3" width="9.4" height="9.4" fill="url(#sqg)" stroke="#0f250f" stroke-width="1.2"/>
<circle cx="525.6" cy="69" r="3.4" fill="#142238"/><circle cx="525.6" cy="69" r="1" fill="#5f7f9f"/>
<circle cx="527" cy="88" r="3.4" fill="#142238"/><circle cx="527" cy="88" r="1" fill="#5f7f9f"/>
<circle cx="527" cy="108" r="3.4" fill="#142238"/><circle cx="527" cy="108" r="1" fill="#5f7f9f"/>
<circle cx="529.4" cy="127" r="3.4" fill="#142238"/><circle cx="529.4" cy="127" r="1" fill="#5f7f9f"/>
<circle cx="531.2" cy="145.7" r="3.4" fill="#142238"/><circle cx="531.2" cy="145.7" r="1" fill="#5f7f9f"/>
<circle cx="535.4" cy="164.2" r="3.4" fill="#142238"/><circle cx="535.4" cy="164.2" r="1" fill="#5f7f9f"/>
<circle cx="538.8" cy="184" r="3.4" fill="#142238"/><circle cx="538.8" cy="184" r="1" fill="#5f7f9f"/>
<circle cx="545.1" cy="204" r="3.4" fill="#142238"/><circle cx="545.1" cy="204" r="1" fill="#5f7f9f"/>
<circle cx="557.3" cy="222.4" r="3.4" fill="#142238"/><circle cx="557.3" cy="222.4" r="1" fill="#5f7f9f"/>
<circle cx="592.2" cy="242.3" r="3.4" fill="#142238"/><circle cx="592.2" cy="242.3" r="1" fill="#5f7f9f"/>
<circle cx="963.7" cy="262.6" r="3.8" fill="#111a28"/>
<text x="531.7" y="90.7" font-size="15.5" font-family="Liberation Serif, serif" fill="#1e1e1e" stroke="#1e1e1e" stroke-width="0.25">0.9</text>
<text x="534.6" y="109.8" font-size="15.5" font-family="Liberation Serif, serif" fill="#1e1e1e" stroke="#1e1e1e" stroke-width="0.25">0.8</text>
<text x="537.6" y="128.3" font-size="15.5" font-family="Liberation Serif, serif" fill="#1e1e1e" stroke="#1e1e1e" stroke-width="0.25">0.7</text>
<text x="539.8" y="145.5" font-size="15.5" font-family="Liberation Serif, serif" fill="#1e1e1e" stroke="#1e1e1e" stroke-width="0.25">0.6</text>
<text x="542.9" y="161.5" font-size="15.5" font-family="Liberation Serif, serif" fill="#1e1e1e" stroke="#1e1e1e" stroke-width="0.25">0.5</text>
<text x="548.7" y="180.7" font-size="15.5" font-family="Liberation Serif, serif" fill="#1e1e1e" stroke="#1e1e1e" stroke-width="0.25">0.4</text>
<text x="557.8" y="198" font-size="15.5" font-family="Liberation Serif, serif" fill="#1e1e1e" stroke="#1e1e1e" stroke-width="0.25">0.3</text>
<text x="573.8" y="215.8" font-size="15.5" font-family="Liberation Serif, serif" fill="#1e1e1e" stroke="#1e1e1e" stroke-width="0.25">0.2</text>
<text x="599.9" y="229.3" font-size="15.5" font-family="Liberation Serif, serif" fill="#1e1e1e" stroke="#1e1e1e" stroke-width="0.25">0.1</text>
<rect x="524.2" y="44.2" width="17" height="17" fill="#f0896a"/>
<text x="532.7" y="56.9" font-size="15" text-anchor="middle" font-family="Liberation Serif, serif" fill="#4a1508" stroke="#4a1508" stroke-width="0.25">B</text>
<rect x="956.8" y="237.6" width="16.4" height="16.8" fill="#b9b9b9"/>
<text x="965" y="251.3" font-size="15.5" text-anchor="middle" font-family="Liberation Serif, serif" fill="#1e1e1e" stroke="#1e1e1e" stroke-width="0.25">A</text>
<text x="552.2" y="56.4" font-size="15" font-family="Liberation Serif, serif" fill="#1e1e1e" stroke="#1e1e1e" stroke-width="0.25">Halite precipitation fluid</text>
<text x="564.9" y="86.8" font-size="15" font-family="Liberation Serif, serif" fill="#1e1e1e" stroke="#1e1e1e" stroke-width="0.25">(Bittern brine)</text>
<text x="831" y="220.8" font-size="15" font-family="Liberation Serif, serif" fill="#1e1e1e" stroke="#1e1e1e" stroke-width="0.25">Halite dissolution fluid</text>
<rect x="679.8" y="63.9" width="288.5" height="129" fill="#fff" stroke="#1a1a1a" stroke-width="1.5"/>
<rect x="705.8" y="77.6" width="8.6" height="8.6" fill="#42a545" stroke="#102a10" stroke-width="1"/>
<path d="M710.1 93L716.4 99.3L710.1 105.6L703.8 99.3Z" fill="#9ccc58" stroke="#1a2a10" stroke-width="1"/>
<circle cx="710.1" cy="116.8" r="4.9" fill="#ee8a6a" stroke="#3a1a10" stroke-width="1"/>
<circle cx="710.1" cy="133.5" r="3.4" fill="#e07fb0"/>
<circle cx="710.1" cy="150.3" r="3.4" fill="#8e8e8e"/>
<rect x="691.9" y="174.8" width="36.5" height="5.5" fill="#3d79b4" fill-opacity="0.72"/>
<circle cx="710.3" cy="177.5" r="4.3" fill="#17284a"/><circle cx="710.3" cy="177.5" r="1.6" fill="#6a8cb0"/>
<text x="731.1" y="86" font-size="15" font-family="Liberation Serif, serif" fill="#1e1e1e" stroke="#1e1e1e" stroke-width="0.25">Primary Scp I</text>
<text x="731.1" y="103.5" font-size="15" font-family="Liberation Serif, serif" fill="#1e1e1e" stroke="#1e1e1e" stroke-width="0.25">Secondary Scp I</text>
<text x="731.1" y="121" font-size="15" font-family="Liberation Serif, serif" fill="#1e1e1e" stroke="#1e1e1e" stroke-width="0.25">Scp II</text>
<text x="731.1" y="138" font-size="15" font-family="Liberation Serif, serif" fill="#1e1e1e" stroke="#1e1e1e" stroke-width="0.25">Magmatic Scp (<tspan fill="#3565a5" stroke="#3565a5">Zeng et al., 2019</tspan>)</text>
<text x="731.1" y="155" font-size="15" font-family="Liberation Serif, serif" fill="#1e1e1e" stroke="#1e1e1e" stroke-width="0.25">Hydrothermal Scp (<tspan fill="#3565a5" stroke="#3565a5">Zeng et al., 2019</tspan>)</text>
<text x="733.4" y="181.5" font-size="15" font-family="Liberation Serif, serif" fill="#1e1e1e" stroke="#1e1e1e" stroke-width="0.25">Mixing trend</text>
<rect x="537" y="278.3" width="54.3" height="8" fill="#ea9cc6"/>
<rect x="537" y="278.3" width="16" height="8" fill="#e070ac"/>
<text x="612" y="286.5" font-size="15" font-family="Liberation Serif, serif" fill="#1e1e1e" stroke="#1e1e1e" stroke-width="0.25">Mantle &amp; Magmatic fluids</text>
<line x1="555.5" y1="300" x2="653" y2="300" stroke="#b0b0b0" stroke-width="3.5" stroke-dasharray="8,7"/>
<rect x="653.8" y="295.2" width="329.8" height="7.8" fill="#b0b0b0"/>
<circle cx="543.7" cy="300.3" r="3.9" fill="#9ed6d8" stroke="#14242a" stroke-width="1.8"/>
<text x="513.8" y="319" font-size="15" font-family="Liberation Serif, serif" fill="#1e1e1e" stroke="#1e1e1e" stroke-width="0.25">Seawater</text>
<text x="838.7" y="319" font-size="15" font-family="Liberation Serif, serif" fill="#1e1e1e" stroke="#1e1e1e" stroke-width="0.25">Halite dissolution fluid</text>
<rect x="513.8" y="327" width="17.5" height="7.3" fill="#f0a070"/>
<text x="547" y="334" font-size="15" font-family="Liberation Serif, serif" fill="#1e1e1e" stroke="#1e1e1e" stroke-width="0.25">Bittern brine (evaporation process or phase separation)</text>
<rect x="507.8" y="30" width="475.99999999999994" height="315.5" fill="none" stroke="#1a1a1a" stroke-width="1.8"/>
<line x1="507.8" y1="266.2" x2="983.8" y2="266.2" stroke="#1a1a1a" stroke-width="1.6"/>
<line x1="512.1" y1="30" x2="512.1" y2="39" stroke="#1a1a1a" stroke-width="1.3"/>
<line x1="512.1" y1="266.2" x2="512.1" y2="257.2" stroke="#1a1a1a" stroke-width="1.3"/>
<line x1="512.1" y1="345.5" x2="512.1" y2="336.5" stroke="#1a1a1a" stroke-width="1.3"/>
<line x1="534.7" y1="30" x2="534.7" y2="34.6" stroke="#1a1a1a" stroke-width="1.3"/>
<line x1="534.7" y1="266.2" x2="534.7" y2="261.59999999999997" stroke="#1a1a1a" stroke-width="1.3"/>
<line x1="534.7" y1="345.5" x2="534.7" y2="340.9" stroke="#1a1a1a" stroke-width="1.3"/>
<line x1="557.3" y1="30" x2="557.3" y2="34.6" stroke="#1a1a1a" stroke-width="1.3"/>
<line x1="557.3" y1="266.2" x2="557.3" y2="261.59999999999997" stroke="#1a1a1a" stroke-width="1.3"/>
<line x1="557.3" y1="345.5" x2="557.3" y2="340.9" stroke="#1a1a1a" stroke-width="1.3"/>
<line x1="579.9" y1="30" x2="579.9" y2="34.6" stroke="#1a1a1a" stroke-width="1.3"/>
<line x1="579.9" y1="266.2" x2="579.9" y2="261.59999999999997" stroke="#1a1a1a" stroke-width="1.3"/>
<line x1="579.9" y1="345.5" x2="579.9" y2="340.9" stroke="#1a1a1a" stroke-width="1.3"/>
<line x1="602.5" y1="30" x2="602.5" y2="34.6" stroke="#1a1a1a" stroke-width="1.3"/>
<line x1="602.5" y1="266.2" x2="602.5" y2="261.59999999999997" stroke="#1a1a1a" stroke-width="1.3"/>
<line x1="602.5" y1="345.5" x2="602.5" y2="340.9" stroke="#1a1a1a" stroke-width="1.3"/>
<line x1="625.1" y1="30" x2="625.1" y2="39" stroke="#1a1a1a" stroke-width="1.3"/>
<line x1="625.1" y1="266.2" x2="625.1" y2="257.2" stroke="#1a1a1a" stroke-width="1.3"/>
<line x1="625.1" y1="345.5" x2="625.1" y2="336.5" stroke="#1a1a1a" stroke-width="1.3"/>
<line x1="647.7" y1="30" x2="647.7" y2="34.6" stroke="#1a1a1a" stroke-width="1.3"/>
<line x1="647.7" y1="266.2" x2="647.7" y2="261.59999999999997" stroke="#1a1a1a" stroke-width="1.3"/>
<line x1="647.7" y1="345.5" x2="647.7" y2="340.9" stroke="#1a1a1a" stroke-width="1.3"/>
<line x1="670.3" y1="30" x2="670.3" y2="34.6" stroke="#1a1a1a" stroke-width="1.3"/>
<line x1="670.3" y1="266.2" x2="670.3" y2="261.59999999999997" stroke="#1a1a1a" stroke-width="1.3"/>
<line x1="670.3" y1="345.5" x2="670.3" y2="340.9" stroke="#1a1a1a" stroke-width="1.3"/>
<line x1="692.9" y1="30" x2="692.9" y2="34.6" stroke="#1a1a1a" stroke-width="1.3"/>
<line x1="692.9" y1="266.2" x2="692.9" y2="261.59999999999997" stroke="#1a1a1a" stroke-width="1.3"/>
<line x1="692.9" y1="345.5" x2="692.9" y2="340.9" stroke="#1a1a1a" stroke-width="1.3"/>
<line x1="715.5" y1="30" x2="715.5" y2="34.6" stroke="#1a1a1a" stroke-width="1.3"/>
<line x1="715.5" y1="266.2" x2="715.5" y2="261.59999999999997" stroke="#1a1a1a" stroke-width="1.3"/>
<line x1="715.5" y1="345.5" x2="715.5" y2="340.9" stroke="#1a1a1a" stroke-width="1.3"/>
<line x1="738.1" y1="30" x2="738.1" y2="39" stroke="#1a1a1a" stroke-width="1.3"/>
<line x1="738.1" y1="266.2" x2="738.1" y2="257.2" stroke="#1a1a1a" stroke-width="1.3"/>
<line x1="738.1" y1="345.5" x2="738.1" y2="336.5" stroke="#1a1a1a" stroke-width="1.3"/>
<line x1="760.7" y1="30" x2="760.7" y2="34.6" stroke="#1a1a1a" stroke-width="1.3"/>
<line x1="760.7" y1="266.2" x2="760.7" y2="261.59999999999997" stroke="#1a1a1a" stroke-width="1.3"/>
<line x1="760.7" y1="345.5" x2="760.7" y2="340.9" stroke="#1a1a1a" stroke-width="1.3"/>
<line x1="783.3" y1="30" x2="783.3" y2="34.6" stroke="#1a1a1a" stroke-width="1.3"/>
<line x1="783.3" y1="266.2" x2="783.3" y2="261.59999999999997" stroke="#1a1a1a" stroke-width="1.3"/>
<line x1="783.3" y1="345.5" x2="783.3" y2="340.9" stroke="#1a1a1a" stroke-width="1.3"/>
<line x1="805.9" y1="30" x2="805.9" y2="34.6" stroke="#1a1a1a" stroke-width="1.3"/>
<line x1="805.9" y1="266.2" x2="805.9" y2="261.59999999999997" stroke="#1a1a1a" stroke-width="1.3"/>
<line x1="805.9" y1="345.5" x2="805.9" y2="340.9" stroke="#1a1a1a" stroke-width="1.3"/>
<line x1="828.5" y1="30" x2="828.5" y2="34.6" stroke="#1a1a1a" stroke-width="1.3"/>
<line x1="828.5" y1="266.2" x2="828.5" y2="261.59999999999997" stroke="#1a1a1a" stroke-width="1.3"/>
<line x1="828.5" y1="345.5" x2="828.5" y2="340.9" stroke="#1a1a1a" stroke-width="1.3"/>
<line x1="851.1" y1="30" x2="851.1" y2="39" stroke="#1a1a1a" stroke-width="1.3"/>
<line x1="851.1" y1="266.2" x2="851.1" y2="257.2" stroke="#1a1a1a" stroke-width="1.3"/>
<line x1="851.1" y1="345.5" x2="851.1" y2="336.5" stroke="#1a1a1a" stroke-width="1.3"/>
<line x1="873.7" y1="30" x2="873.7" y2="34.6" stroke="#1a1a1a" stroke-width="1.3"/>
<line x1="873.7" y1="266.2" x2="873.7" y2="261.59999999999997" stroke="#1a1a1a" stroke-width="1.3"/>
<line x1="873.7" y1="345.5" x2="873.7" y2="340.9" stroke="#1a1a1a" stroke-width="1.3"/>
<line x1="896.3" y1="30" x2="896.3" y2="34.6" stroke="#1a1a1a" stroke-width="1.3"/>
<line x1="896.3" y1="266.2" x2="896.3" y2="261.59999999999997" stroke="#1a1a1a" stroke-width="1.3"/>
<line x1="896.3" y1="345.5" x2="896.3" y2="340.9" stroke="#1a1a1a" stroke-width="1.3"/>
<line x1="918.9" y1="30" x2="918.9" y2="34.6" stroke="#1a1a1a" stroke-width="1.3"/>
<line x1="918.9" y1="266.2" x2="918.9" y2="261.59999999999997" stroke="#1a1a1a" stroke-width="1.3"/>
<line x1="918.9" y1="345.5" x2="918.9" y2="340.9" stroke="#1a1a1a" stroke-width="1.3"/>
<line x1="941.5" y1="30" x2="941.5" y2="34.6" stroke="#1a1a1a" stroke-width="1.3"/>
<line x1="941.5" y1="266.2" x2="941.5" y2="261.59999999999997" stroke="#1a1a1a" stroke-width="1.3"/>
<line x1="941.5" y1="345.5" x2="941.5" y2="340.9" stroke="#1a1a1a" stroke-width="1.3"/>
<line x1="964.1" y1="30" x2="964.1" y2="39" stroke="#1a1a1a" stroke-width="1.3"/>
<line x1="964.1" y1="266.2" x2="964.1" y2="257.2" stroke="#1a1a1a" stroke-width="1.3"/>
<line x1="964.1" y1="345.5" x2="964.1" y2="336.5" stroke="#1a1a1a" stroke-width="1.3"/>
<line x1="507.8" y1="266.2" x2="516.3" y2="266.2" stroke="#1a1a1a" stroke-width="1.3"/>
<line x1="983.8" y1="266.2" x2="975.3" y2="266.2" stroke="#1a1a1a" stroke-width="1.3"/>
<line x1="507.8" y1="250.4" x2="512.4" y2="250.4" stroke="#1a1a1a" stroke-width="1.3"/>
<line x1="983.8" y1="250.4" x2="979.1999999999999" y2="250.4" stroke="#1a1a1a" stroke-width="1.3"/>
<line x1="507.8" y1="234.7" x2="512.4" y2="234.7" stroke="#1a1a1a" stroke-width="1.3"/>
<line x1="983.8" y1="234.7" x2="979.1999999999999" y2="234.7" stroke="#1a1a1a" stroke-width="1.3"/>
<line x1="507.8" y1="218.9" x2="512.4" y2="218.9" stroke="#1a1a1a" stroke-width="1.3"/>
<line x1="983.8" y1="218.9" x2="979.1999999999999" y2="218.9" stroke="#1a1a1a" stroke-width="1.3"/>
<line x1="507.8" y1="203.2" x2="512.4" y2="203.2" stroke="#1a1a1a" stroke-width="1.3"/>
<line x1="983.8" y1="203.2" x2="979.1999999999999" y2="203.2" stroke="#1a1a1a" stroke-width="1.3"/>
<line x1="507.8" y1="187.4" x2="516.3" y2="187.4" stroke="#1a1a1a" stroke-width="1.3"/>
<line x1="983.8" y1="187.4" x2="975.3" y2="187.4" stroke="#1a1a1a" stroke-width="1.3"/>
<line x1="507.8" y1="171.6" x2="512.4" y2="171.6" stroke="#1a1a1a" stroke-width="1.3"/>
<line x1="983.8" y1="171.6" x2="979.1999999999999" y2="171.6" stroke="#1a1a1a" stroke-width="1.3"/>
<line x1="507.8" y1="155.9" x2="512.4" y2="155.9" stroke="#1a1a1a" stroke-width="1.3"/>
<line x1="983.8" y1="155.9" x2="979.1999999999999" y2="155.9" stroke="#1a1a1a" stroke-width="1.3"/>
<line x1="507.8" y1="140.1" x2="512.4" y2="140.1" stroke="#1a1a1a" stroke-width="1.3"/>
<line x1="983.8" y1="140.1" x2="979.1999999999999" y2="140.1" stroke="#1a1a1a" stroke-width="1.3"/>
<line x1="507.8" y1="124.4" x2="512.4" y2="124.4" stroke="#1a1a1a" stroke-width="1.3"/>
<line x1="983.8" y1="124.4" x2="979.1999999999999" y2="124.4" stroke="#1a1a1a" stroke-width="1.3"/>
<line x1="507.8" y1="108.6" x2="516.3" y2="108.6" stroke="#1a1a1a" stroke-width="1.3"/>
<line x1="983.8" y1="108.6" x2="975.3" y2="108.6" stroke="#1a1a1a" stroke-width="1.3"/>
<line x1="507.8" y1="92.8" x2="512.4" y2="92.8" stroke="#1a1a1a" stroke-width="1.3"/>
<line x1="983.8" y1="92.8" x2="979.1999999999999" y2="92.8" stroke="#1a1a1a" stroke-width="1.3"/>
<line x1="507.8" y1="77.1" x2="512.4" y2="77.1" stroke="#1a1a1a" stroke-width="1.3"/>
<line x1="983.8" y1="77.1" x2="979.1999999999999" y2="77.1" stroke="#1a1a1a" stroke-width="1.3"/>
<line x1="507.8" y1="61.3" x2="512.4" y2="61.3" stroke="#1a1a1a" stroke-width="1.3"/>
<line x1="983.8" y1="61.3" x2="979.1999999999999" y2="61.3" stroke="#1a1a1a" stroke-width="1.3"/>
<line x1="507.8" y1="45.6" x2="512.4" y2="45.6" stroke="#1a1a1a" stroke-width="1.3"/>
<line x1="983.8" y1="45.6" x2="979.1999999999999" y2="45.6" stroke="#1a1a1a" stroke-width="1.3"/>
<line x1="507.8" y1="29.8" x2="516.3" y2="29.8" stroke="#1a1a1a" stroke-width="1.3"/>
<line x1="983.8" y1="29.8" x2="975.3" y2="29.8" stroke="#1a1a1a" stroke-width="1.3"/>
<text x="503.5" y="34.4" font-size="15" text-anchor="end" font-family="Liberation Serif, serif" fill="#1e1e1e" stroke="#1e1e1e" stroke-width="0.25">300</text>
<text x="503.5" y="112.8" font-size="15" text-anchor="end" font-family="Liberation Serif, serif" fill="#1e1e1e" stroke="#1e1e1e" stroke-width="0.25">200</text>
<text x="503.5" y="191.2" font-size="15" text-anchor="end" font-family="Liberation Serif, serif" fill="#1e1e1e" stroke="#1e1e1e" stroke-width="0.25">100</text>
<text x="503.5" y="269.6" font-size="15" text-anchor="end" font-family="Liberation Serif, serif" fill="#1e1e1e" stroke="#1e1e1e" stroke-width="0.25">0</text>
<text x="512.1" y="364.2" font-size="14.5" text-anchor="middle" font-family="Liberation Serif, serif" fill="#1e1e1e" stroke="#1e1e1e" stroke-width="0.25">0</text>
<text x="625.1" y="364.2" font-size="14.5" text-anchor="middle" font-family="Liberation Serif, serif" fill="#1e1e1e" stroke="#1e1e1e" stroke-width="0.25">2500</text>
<text x="738.1" y="364.2" font-size="14.5" text-anchor="middle" font-family="Liberation Serif, serif" fill="#1e1e1e" stroke="#1e1e1e" stroke-width="0.25">5000</text>
<text x="851.1" y="364.2" font-size="14.5" text-anchor="middle" font-family="Liberation Serif, serif" fill="#1e1e1e" stroke="#1e1e1e" stroke-width="0.25">7500</text>
<text x="955.4" y="364.4" font-size="14.5" font-family="Liberation Serif, serif" fill="#1e1e1e" stroke="#1e1e1e" stroke-width="0.25">10<tspan font-size="8.5" dy="-7.6">4</tspan></text>
<text x="748.3" y="386.5" font-size="15" text-anchor="middle" font-family="Liberation Serif, serif" fill="#1e1e1e" stroke="#1e1e1e" stroke-width="0.25">Cl/Br (molar ratio)</text>
<text transform="translate(471.5,153.8) rotate(-90)" font-size="16" text-anchor="middle" font-family="Liberation Serif, serif" fill="#2e2e2e">Br (ppm)</text>
<text x="458.2" y="38.4" font-size="22" font-family="Liberation Sans, sans-serif" fill="#111">B</text>
</svg></body></html>
